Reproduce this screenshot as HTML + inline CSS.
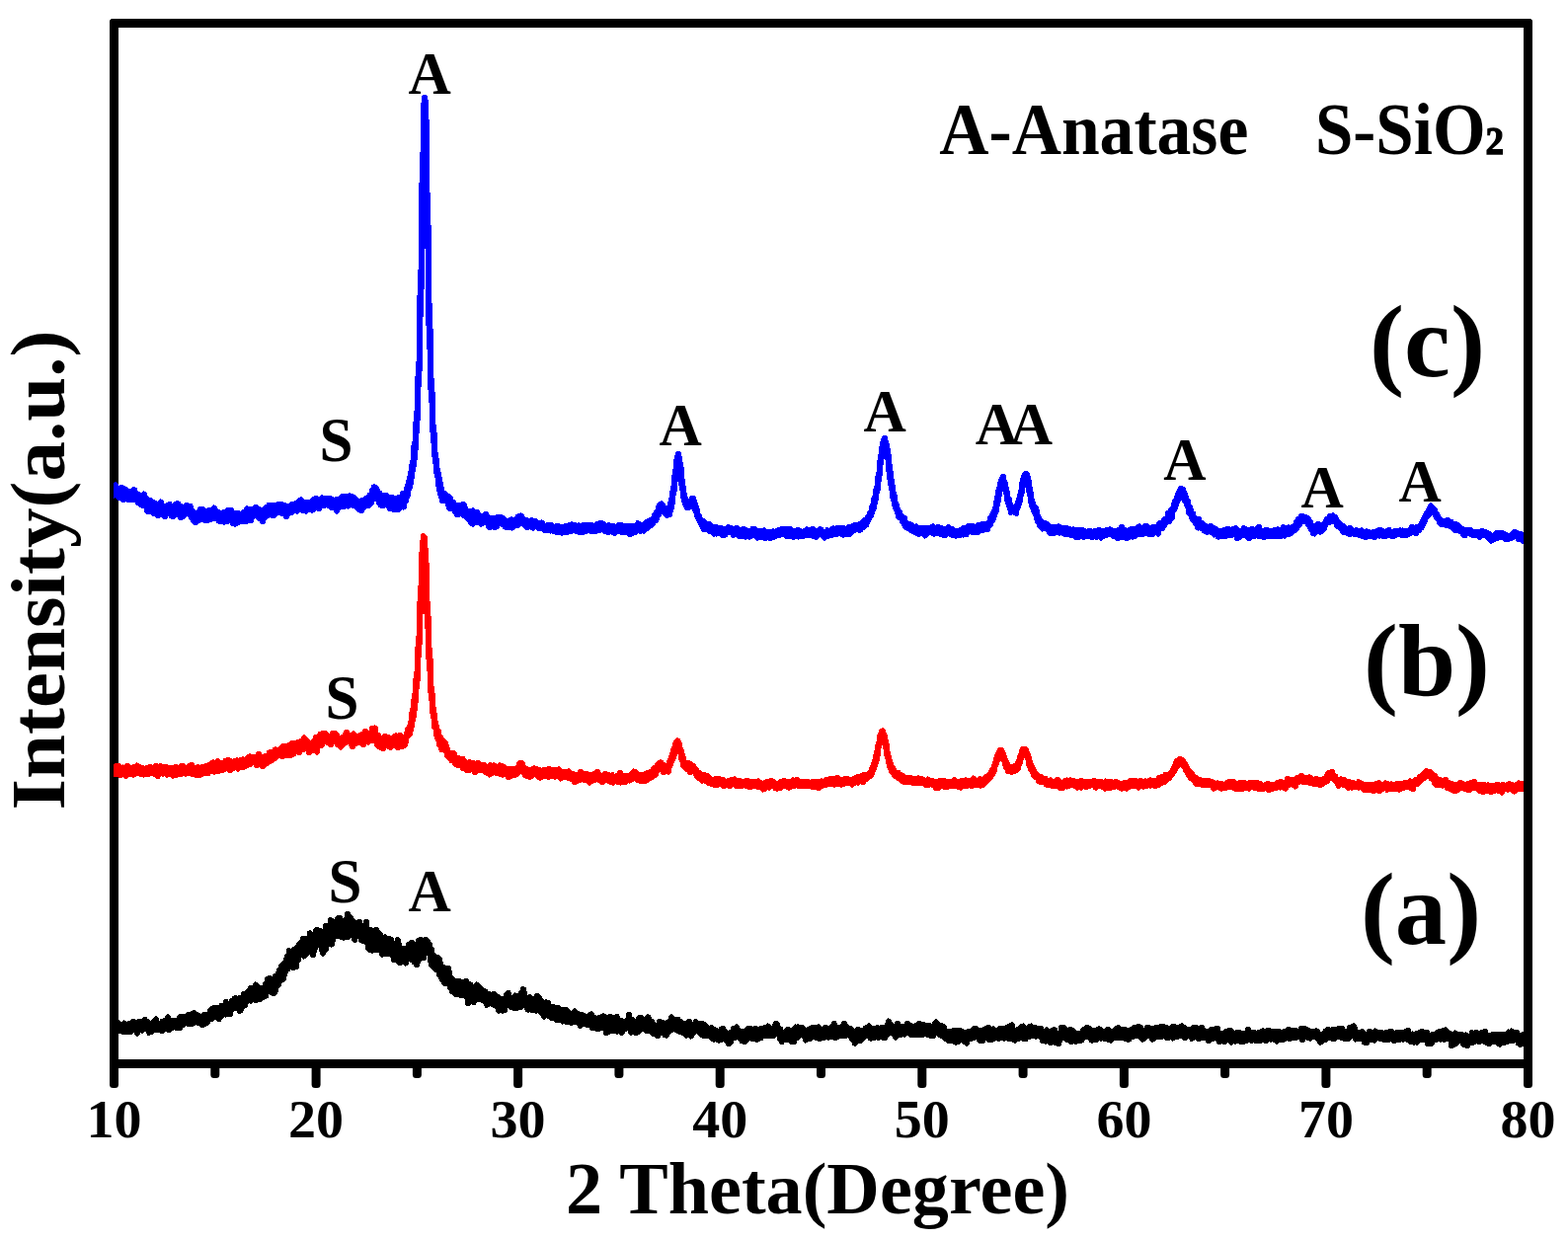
<!DOCTYPE html>
<html lang="en"><head><meta charset="utf-8"><title>XRD patterns</title>
<style>html,body{margin:0;padding:0;background:#fff;overflow:hidden}svg{display:block}</style></head>
<body>
<svg width="1588" height="1256" viewBox="0 0 1588 1256" role="img" aria-label="XRD patterns">
<rect width="1588" height="1256" fill="#fff"/>
<g fill="#000">
<rect x="111" y="19" width="9" height="1083" rx="3.5"/>
<rect x="1543" y="19" width="9" height="1083" rx="3.5"/>
<rect x="111" y="19" width="1441" height="9" rx="3.5"/>
<rect x="111" y="1073" width="1441" height="9"/>
<rect x="213.3" y="1073" width="9" height="19" rx="3.5"/>
<rect x="315.6" y="1073" width="9" height="29" rx="3.5"/>
<rect x="417.9" y="1073" width="9" height="19" rx="3.5"/>
<rect x="520.1" y="1073" width="9" height="29" rx="3.5"/>
<rect x="622.4" y="1073" width="9" height="19" rx="3.5"/>
<rect x="724.7" y="1073" width="9" height="29" rx="3.5"/>
<rect x="827.0" y="1073" width="9" height="19" rx="3.5"/>
<rect x="929.3" y="1073" width="9" height="29" rx="3.5"/>
<rect x="1031.6" y="1073" width="9" height="19" rx="3.5"/>
<rect x="1133.9" y="1073" width="9" height="29" rx="3.5"/>
<rect x="1236.1" y="1073" width="9" height="19" rx="3.5"/>
<rect x="1338.4" y="1073" width="9" height="29" rx="3.5"/>
<rect x="1440.7" y="1073" width="9" height="19" rx="3.5"/>
</g>
<clipPath id="c"><rect x="115" y="28" width="1428" height="1045"/></clipPath>
<g fill="none" stroke-width="6" stroke-linejoin="round" stroke-linecap="butt" shape-rendering="crispEdges" clip-path="url(#c)">
<path stroke="#0000ff" d="M113 504.7L113 493.5L114 493L114 502.6L115 501.9L115 494.4L116 493L116 501L117 500.2L117 491.3L118 496L118 501.6L119 502.2L119 495.1L120 496L120 503.6L121 501.5L121 497.1L122 494.3L122 504L123 504L123 493.5L124 497.3L124 503.4L125 506L125 498L126 495.2L126 505.5L127 505.5L127 495.9L128 496.6L128 505.4L129 505.2L129 499L130 500.1L130 506.2L131 504.7L131 498L132 499.6L132 504.9L133 504.9L133 498.2L134 498.5L134 506.4L135 504.4L135 499.9L136 496L136 504.5L137 505.3L137 501.2L138 499.8L138 506.1L139 507.5L139 500.1L140 500.9L140 509.3L141 508.6L141 503.9L142 503.3L142 510.3L143 510.5L143 504.5L144 504.6L144 511.7L145 511.6L145 504.5L146 500.5L146 512.2L147 511.6L147 504.8L148 504.7L148 512.5L149 517.7L149 508.8L150 509.2L150 514.5L151 513.7L151 507.7L152 507.2L152 518.2L153 515.3L153 508.1L154 510.3L154 514.4L155 518.2L155 512.1L156 509.2L156 520.1L157 518.8L157 513.9L158 513.1L158 518.8L159 520.5L159 516.4L160 511L160 521.9L161 520.7L161 513.9L162 509.5L162 521.6L163 520.4L163 508.4L164 512.5L164 518.2L165 519.1L165 512.8L166 513.2L166 517.3L167 523.3L167 512.9L168 513.8L168 520.7L169 519.5L169 513.4L170 512.1L170 519.7L171 518.8L171 511.5L172 511.1L172 517.8L173 519.1L173 513.8L174 515.2L174 522.7L175 520.1L175 513.2L176 514.4L176 522.8L177 519L177 513L178 510.8L178 518.1L179 518L179 510.3L180 510.3L180 520.6L181 518.9L181 512.2L182 513.9L182 520.1L183 524.1L183 512.8L184 513.7L184 521.5L185 523L185 515.4L186 517.8L186 522.8L187 521.2L187 516.2L188 514.9L188 519.3L189 519.8L189 511.7L190 513L190 519.7L191 520.7L191 513.3L192 512.6L192 520.8L193 522.5L193 512.9L194 518.1L194 524.6L195 521.7L195 518.2L196 519.3L196 527.5L197 526.9L197 519.5L198 519.5L198 529.1L199 528.5L199 520.7L200 520L200 527.1L201 527.3L201 519.6L202 517.6L202 525.8L203 521.6L203 516L204 518.4L204 526.2L205 525L205 515.9L206 517.5L206 525.1L207 524.9L207 517.6L208 519.7L208 527.3L209 523.8L209 518.1L210 519.2L210 525L211 526.5L211 519.5L212 517.1L212 525.1L213 523.2L213 516.9L214 518.6L214 525.9L215 523.7L215 517.6L216 517L216 525.3L217 523L217 514.4L218 517.5L218 524.7L219 525.4L219 517.6L220 518.4L220 525.6L221 526.2L221 519.1L222 519.6L222 527.8L223 527.6L223 520.8L224 521.7L224 526.2L225 527L225 521.5L226 521.1L226 527.9L227 528.7L227 518.5L228 519.9L228 525.6L229 527.3L229 518.8L230 518.7L230 528.4L231 524.6L231 517.2L232 518.1L232 524.8L233 526.2L233 517.3L234 516.7L234 526.2L235 526.1L235 519.2L236 521.7L236 530.1L237 526.2L237 519.8L238 521.7L238 530.8L239 527.4L239 520.2L240 520.6L240 527.3L241 529.5L241 522.3L242 520.1L242 528.8L243 528.4L243 522.2L244 520.9L244 526.5L245 528.2L245 520.7L246 519.3L246 526.1L247 527L247 521.3L248 520.5L248 527.9L249 528L249 520.3L250 515.4L250 527L251 525L251 516.8L252 515.8L252 523.3L253 525.7L253 518.7L254 516.8L254 527.2L255 523.3L255 517.7L256 515.9L256 521.7L257 521.3L257 516.2L258 514.6L258 522.1L259 521L259 513.6L260 515L260 521.7L261 523.7L261 515.1L262 516.1L262 522.6L263 525L263 518.4L264 517.3L264 525L265 524.5L265 517.2L266 518.1L266 528.2L267 524.1L267 516.4L268 516.5L268 524.4L269 521.3L269 514.3L270 514L270 519.5L271 519.9L271 513.9L272 512.2L272 521.8L273 520.4L273 511.8L274 514.2L274 520.7L275 521.8L275 514.5L276 513.6L276 519.3L277 521.7L277 511.9L278 513.7L278 521.8L279 519.3L279 515.2L280 513.8L280 519.5L281 518.7L281 515.6L282 511L282 518.8L283 519.3L283 512.6L284 511L284 518.6L285 519.8L285 510.7L286 513.3L286 519.4L287 518.4L287 513.8L288 512L288 517.8L289 521.2L289 513.9L290 515.5L290 523.5L291 520.4L291 515.5L292 512.9L292 518.1L293 519.7L293 514.1L294 512.9L294 518.8L295 519.1L295 511.3L296 510.6L296 517.5L297 517.5L297 510.5L298 510.8L298 517.1L299 516.5L299 510.3L300 510.2L300 516.2L301 517.6L301 510.2L302 508.4L302 516.9L303 515.2L303 508.2L304 510.2L304 516.3L305 515L305 506.3L306 509.1L306 516.6L307 517L307 510.6L308 510.5L308 517.2L309 516.6L309 508.8L310 511L310 517.7L311 515.2L311 508.8L312 509.3L312 515.2L313 515.1L313 509.9L314 508.7L314 515.8L315 514.7L315 510.3L316 508.1L316 516.6L317 516L317 508.9L318 505.7L318 513.9L319 513.5L319 505.7L320 504.7L320 513L321 514.2L321 508.7L322 509L322 512.9L323 515.2L323 506.6L324 505.8L324 512.1L325 511.3L325 505.6L326 504.5L326 511.9L327 510.3L327 507.1L328 506.5L328 511.9L329 510.1L329 504.5L330 505.5L330 511L331 511.3L331 505.4L332 506.3L332 511.7L333 511.1L333 505L334 504.9L334 510.5L335 511.1L335 505.1L336 506L336 514.2L337 514L337 507.3L338 508.9L338 514.3L339 514.2L339 507.7L340 507.5L340 513.4L341 517.7L341 505.6L342 507.4L342 516L343 512.7L343 506.3L344 507.7L344 512.4L345 513.1L345 505.9L346 503.5L346 511.8L347 509.6L347 503.3L348 503.9L348 513.5L349 511.3L349 502.6L350 502.5L350 509.8L351 510.4L351 503.9L352 503.3L352 509.1L353 512.5L353 502.8L354 502.4L354 511.3L355 509L355 503.1L356 505.2L356 511.4L357 511.2L357 503.4L358 503.9L358 512.2L359 510.2L359 505.6L360 505.8L360 511.2L361 513.8L361 506.9L362 508.3L362 514.7L363 514.9L363 509.1L364 508.2L364 516.5L365 515.6L365 509.2L366 510.5L366 517.1L367 514.6L367 506.6L368 510.5L368 514.4L369 512.9L369 508.3L370 505.3L370 512.3L371 511.8L371 504.5L372 504.3L372 512.1L373 509.9L373 504.2L374 502.2L374 511.9L375 508.6L375 502.1L376 502.3L376 509.2L377 506.4L377 496.7L378 495.9L378 503L379 500.5L379 493.3L380 495.6L380 498.9L381 505L381 494.1L382 497L382 504.5L383 505.9L383 499.3L384 502.4L384 509.5L385 510.2L385 500L386 504L386 511.7L387 510.6L387 503.9L388 505.5L388 512.4L389 508.9L389 504.8L390 501.9L390 509.8L391 511.1L391 505.6L392 502.4L392 509.8L393 512L393 504.2L394 504.2L394 509.8L395 515L395 506.7L396 508.7L396 515.2L397 510.7L397 503.7L398 505.7L398 513.9L399 516.3L399 504.9L400 505.5L400 512L401 512.3L401 505.9L402 508.1L402 513.2L403 516.3L403 506.5L404 504L404 512.5L405 513.7L405 506.3L406 503.4L406 513.7L407 509.1L407 505.1L408 499.9L408 510.6L409 513.5L409 500.5L410 502L410 508.1L411 507.3L411 501.2L412 494.8L412 503.6L413 500.7L413 492.8L414 487.6L414 495.8L415 492.7L415 486L416 478.6L416 489.5L417 481.3L417 473.1L418 467.3L418 476.7L419 469.2L419 455.3L420 448.1L420 464.7L421 447.7L421 436L422 418L422 436.8L423 416.7L423 393.8L424 368.1L424 390.7L425 363.4L425 324.2L426 275.2L426 319.3L427 267.8L427 215.2L428 155.8L428 207.2L429 150.5L429 109.7L430 98.9L430 107.3L431 132.9L431 102.7L432 138.6L432 188.6L433 249.8L433 196.3L434 257.3L434 307.7L435 352L435 309.2L436 353.8L436 384L437 406.6L437 384.6L438 409L438 428.2L439 447.6L439 432L440 443.4L440 456.7L441 467.8L441 459.4L442 467.8L442 477.4L443 482.6L443 475L444 481.4L444 489.4L445 496.9L445 484.3L446 491.5L446 499.9L447 503.9L447 494.1L448 499.8L448 507L449 507.3L449 501.4L450 500L450 506.2L451 506.9L451 500.9L452 501.8L452 506.5L453 507.8L453 504.7L454 502.9L454 510.6L455 514L455 505.8L456 504.5L456 515.1L457 514.1L457 508.1L458 511.1L458 514.6L459 515.4L459 508.9L460 510.3L460 516.1L461 518.4L461 512.7L462 511.8L462 519.7L463 521.1L463 513L464 512.8L464 519.1L465 520.5L465 512.4L466 512.9L466 518.7L467 520.1L467 515.8L468 513.5L468 519.1L469 521.7L469 511L470 511.2L470 521.3L471 522.6L471 514.3L472 516.6L472 520.9L473 523.8L473 517.1L474 518.1L474 525.7L475 526.1L475 519.7L476 519.8L476 527.8L477 528.9L477 519.5L478 521.3L478 530L479 530.6L479 517.3L480 520.4L480 528.5L481 528.8L481 523.2L482 524.9L482 529.2L483 527.7L483 518.6L484 520.8L484 529.3L485 528.7L485 521.6L486 523L486 528.5L487 530.6L487 522.9L488 523.5L488 528.2L489 529.9L489 523.9L490 524.2L490 527.6L491 526.9L491 521.5L492 521L492 527.5L493 528.7L493 523.3L494 524L494 529.6L495 533.7L495 525.6L496 527.3L496 533.9L497 533.6L497 525.6L498 524.9L498 532.6L499 532L499 526.1L500 526L500 530.3L501 534.4L501 528.3L502 525.8L502 531.8L503 533.3L503 524.3L504 524.7L504 529.2L505 529.2L505 524.9L506 523.8L506 528.2L507 529.4L507 523.9L508 525.7L508 530.5L509 531L509 524.6L510 526.5L510 531.4L511 531.7L511 528.1L512 527.3L512 533.7L513 532.3L513 528.3L514 527.7L514 533.9L515 534L515 527.5L516 527.3L516 533.6L517 532.7L517 527.6L518 526.2L518 531.9L519 534.5L519 526.8L520 529.7L520 533.1L521 531.9L521 527.7L522 527.9L522 531.4L523 530.2L523 525.9L524 525.4L524 532.1L525 528.9L525 523.3L526 524L526 528.7L527 527.6L527 524.7L528 522.5L528 530.3L529 529.6L529 524.6L530 525.6L530 529.6L531 531.3L531 526.6L532 528.6L532 531.6L533 533.7L533 527L534 527.7L534 533.4L535 533.8L535 529.3L536 528.9L536 531.9L537 532.7L537 528L538 528.1L538 533.4L539 531.7L539 527.1L540 528.1L540 534.8L541 532.1L541 528.9L542 527.6L542 532.9L543 532.4L543 529L544 529.8L544 533.7L545 534.6L545 531.4L546 529.9L546 534.1L547 534.5L547 531.1L548 530.2L548 534.9L549 534.5L549 529.4L550 531.4L550 536L551 536.2L551 532.6L552 533.7L552 537.3L553 536.7L553 533L554 532.2L554 537L555 537.3L555 532.3L556 532.1L556 535.4L557 537.3L557 532.9L558 533.4L558 537.6L559 536.7L559 532.2L560 534.1L560 537.3L561 538.4L561 533.9L562 535.7L562 538.5L563 538.8L563 535.5L564 532.6L564 538.4L565 537.3L565 532.5L566 535.4L566 539.2L567 537.6L567 534.5L568 534.2L568 537.6L569 539.6L569 533.8L570 533.8L570 538L571 537L571 534.8L572 534.2L572 538.6L573 539L573 533L574 534.4L574 539.1L575 538.1L575 532.5L576 535.2L576 537.2L577 537.7L577 531.9L578 532.7L578 538.1L579 536.6L579 531.4L580 531.5L580 536.3L581 537.2L581 531.9L582 533.3L582 537.3L583 537.8L583 532.2L584 533.1L584 537.6L585 537.6L585 533.3L586 532.2L586 538.4L587 539.3L587 534.1L588 533L588 537.4L589 538.7L589 533.8L590 532.5L590 537.9L591 538.6L591 533.4L592 531.7L592 536.9L593 538.1L593 532.5L594 533.4L594 535.6L595 536.3L595 533.4L596 531.8L596 535.8L597 537.4L597 533.1L598 531.6L598 536.7L599 538.4L599 531.9L600 533.5L600 537.5L601 537.1L601 533.6L602 534.9L602 538.4L603 538.5L603 532.4L604 531.4L604 537.7L605 536.2L605 533.1L606 532.6L606 536.7L607 537L607 530.3L608 530.4L608 534.3L609 535.5L609 531.3L610 530.3L610 534.5L611 535.3L611 532.3L612 531.5L612 536.5L613 538.1L613 533.4L614 534L614 536.6L615 537.8L615 533.4L616 533.8L616 539L617 536.8L617 532.2L618 532.5L618 537.6L619 537.9L619 534.1L620 533.1L620 538.7L621 536.8L621 533L622 534.3L622 538.6L623 539.9L623 534.1L624 533.6L624 538.7L625 538.4L625 533.9L626 534.3L626 537.7L627 537.2L627 532.2L628 532.9L628 534.5L629 537.4L629 531.8L630 533.1L630 538.9L631 536.8L631 532.9L632 534.5L632 538.6L633 538.6L633 534.7L634 532.9L634 539L635 537.3L635 534L636 532.9L636 537.2L637 538.4L637 533.6L638 534.2L638 541L639 538.6L639 532.9L640 534.1L640 539.6L641 539.6L641 535.2L642 535.4L642 538.5L643 539.4L643 533.2L644 533.7L644 537.9L645 536.6L645 533L646 530.1L646 536.4L647 536.6L647 532.1L648 533.1L648 535.9L649 537.8L649 532.3L650 532.9L650 536.5L651 535.5L651 531.9L652 532.5L652 537.7L653 535L653 531.6L654 529.3L654 535.4L655 535.1L655 528.8L656 528.2L656 532.3L657 532.9L657 529.2L658 529.4L658 532L659 532.4L659 527.2L660 527.9L660 530.6L661 530.7L661 525.7L662 524.8L662 527.3L663 527.7L663 521.8L664 521.1L664 527.4L665 524.9L665 519L666 517.2L666 521.2L667 521.3L667 513.8L668 511.9L668 515.7L669 514.2L669 510.7L670 510.3L670 516L671 515.1L671 511.2L672 513.5L672 518.3L673 519.2L673 515.7L674 515.1L674 520.6L675 521.6L675 516.5L676 516.5L676 521.8L677 521L677 517.8L678 515.1L678 521.5L679 516.8L679 511.7L680 505.1L680 514.8L681 508.1L681 501.4L682 494L682 501L683 495.5L683 486.4L684 476.4L684 485.9L685 476.3L685 467.4L686 462.7L686 468.1L687 465.8L687 459.5L688 464.4L688 470.1L689 478.7L689 469.3L690 477.4L690 487.5L691 495.9L691 486.9L692 496.5L692 502L693 507.2L693 500L694 506.3L694 510.5L695 512.9L695 509.5L696 509.7L696 514.4L697 514.5L697 510.4L698 509.3L698 512.4L699 513.4L699 507.6L700 506.2L700 509.8L701 509.6L701 504.8L702 504.6L702 509.7L703 512.3L703 507.3L704 510.9L704 515.5L705 518.7L705 512.9L706 517.6L706 522.2L707 524.5L707 521.9L708 522.7L708 526.8L709 528.4L709 525.4L710 527L710 530L711 532.4L711 529.2L712 528L712 534.8L713 536.2L713 529.2L714 530.9L714 534.2L715 534.9L715 530.3L716 532.4L716 536.3L717 535.4L717 531.2L718 532.4L718 537.5L719 538.3L719 531.4L720 532.2L720 536.7L721 537.4L721 533.2L722 534.1L722 539.6L723 540.8L723 533.6L724 535.1L724 540.2L725 540L725 536.9L726 534.2L726 540.6L727 539L727 535.3L728 534.8L728 537.7L729 539.9L729 535.6L730 535.2L730 539.8L731 541.6L731 537.5L732 536.2L732 542.4L733 541.6L733 537.1L734 536.3L734 541.9L735 540.6L735 536L736 535.6L736 539.7L737 537.4L737 534.4L738 534.3L738 538.5L739 539.2L739 535L740 535.1L740 538.7L741 539.6L741 536.9L742 537.4L742 540.7L743 541.9L743 537.3L744 535.6L744 541.6L745 539L745 535.6L746 534.7L746 539.2L747 540.5L747 535.9L748 537.6L748 541.3L749 542.9L749 538.4L750 539L750 543.3L751 543.5L751 538.5L752 536.3L752 540.3L753 540.6L753 537.1L754 536.2L754 539.2L755 543.8L755 537.6L756 537.4L756 540.8L757 542.3L757 539.1L758 539L758 541.2L759 543.6L759 537.8L760 537.6L760 542.5L761 542.6L761 538.6L762 536.1L762 540.5L763 541.3L763 537.2L764 536L764 542.2L765 541.6L765 538.3L766 537.1L766 543L767 544.5L767 538.7L768 538.3L768 543.7L769 540.5L769 538.1L770 538.5L770 543.8L771 543.6L771 537.5L772 539.8L772 543.1L773 543.4L773 539.3L774 537.4L774 543.3L775 545L775 539.3L776 539.7L776 542.5L777 542.3L777 539.9L778 539L778 542.1L779 543.3L779 538.6L780 540.3L780 545L781 543.7L781 540.8L782 540.9L782 543.3L783 544.3L783 538.3L784 539.7L784 542.9L785 543L785 539L786 539.3L786 542.5L787 542L787 538.2L788 538.6L788 541.5L789 542.4L789 537L790 538.3L790 541.7L791 541L791 536.9L792 535.8L792 539.9L793 541.4L793 537.1L794 536.2L794 540.6L795 541.2L795 537.6L796 536L796 541.3L797 543.3L797 538.2L798 538.4L798 541.9L799 542.9L799 539.2L800 535.8L800 543.1L801 543.1L801 539.6L802 538.6L802 543.2L803 543.9L803 539.3L804 538.4L804 543L805 542.9L805 537.7L806 538.8L806 543.4L807 541.5L807 538.1L808 536.6L808 541L809 543.5L809 538.6L810 537.7L810 541.7L811 541.9L811 538.2L812 538.8L812 543L813 541.6L813 539.2L814 538.2L814 542.8L815 540.8L815 538.4L816 539.7L816 542.1L817 541L817 536.4L818 536.9L818 541.7L819 542.4L819 538.7L820 537.5L820 542.3L821 541.5L821 537.6L822 538.8L822 542.1L823 542.1L823 535.8L824 537.4L824 543L825 541.8L825 537.6L826 537.5L826 542.1L827 543.8L827 539.4L828 538.1L828 541.7L829 541L829 537.9L830 536.7L830 541.2L831 541.1L831 536.2L832 537.3L832 541.1L833 542.6L833 538.2L834 538.7L834 543.8L835 544.7L835 538.8L836 539.4L836 541.5L837 543.2L837 539L838 537.2L838 542.6L839 542.7L839 538.2L840 539.2L840 541.8L841 542.1L841 537.8L842 536.9L842 542.4L843 540.9L843 535.9L844 535.4L844 541L845 541.3L845 536.3L846 537.7L846 540L847 540.2L847 537.8L848 535.1L848 540.7L849 540.5L849 537.9L850 535.2L850 539.6L851 538.4L851 535L852 535.2L852 539.8L853 540.6L853 535.6L854 536.8L854 541.7L855 540.4L855 535.1L856 535.7L856 541.1L857 540.1L857 535.7L858 535.5L858 540.3L859 540.2L859 534.6L860 533.8L860 541.5L861 537.9L861 533.7L862 534.2L862 539.5L863 538.5L863 533.6L864 532.7L864 536.1L865 536.1L865 532.4L866 532.7L866 536.6L867 535.8L867 532.3L868 532.1L868 535.9L869 535.5L869 532.1L870 532.1L870 535L871 536.9L871 530.9L872 531.2L872 534.3L873 533.9L873 529.9L874 528.6L874 534.1L875 531.3L875 529.4L876 527L876 532.2L877 531.9L877 526.9L878 525.6L878 529.2L879 527L879 523.3L880 522.6L880 525.3L881 523.2L881 519.3L882 518.5L882 522.1L883 518.3L883 514.3L884 511.3L884 516.3L885 514.7L885 506.1L886 503.8L886 509.9L887 504.3L887 497.5L888 493.1L888 498.6L889 494.4L889 485.5L890 479.4L890 485.9L891 478L891 470.8L892 462.1L892 469L893 461.2L893 456.4L894 448.6L894 458.4L895 450.2L895 445.6L896 443.9L896 448.7L897 451.5L897 447.4L898 451L898 457.6L899 464.1L899 456.2L900 463.4L900 471.5L901 483.7L901 471.8L902 482.7L902 488.5L903 495.7L903 486.4L904 495.3L904 502.3L905 506.6L905 499.8L906 503.3L906 510.1L907 514.8L907 509.8L908 511.8L908 515.9L909 519.9L909 515.6L910 518.5L910 523.6L911 523.6L911 518.5L912 522L912 523.8L913 525.6L913 522.2L914 524.5L914 528.4L915 529.6L915 525.5L916 524.9L916 531.3L917 532.9L917 528.7L918 530.1L918 534.3L919 534.7L919 532.1L920 532.2L920 535.4L921 535.9L921 532.6L922 531.3L922 535.6L923 536L923 531.9L924 534L924 538L925 538.3L925 535L926 534.7L926 538.5L927 538.3L927 533.6L928 533.3L928 539.8L929 538.5L929 535.1L930 534.9L930 538.8L931 540.9L931 535.8L932 535.2L932 538.8L933 539L933 535.6L934 536.2L934 540.5L935 539.8L935 534.9L936 536L936 540L937 542.5L937 534.6L938 536.7L938 540.4L939 539.2L939 534.5L940 534.7L940 539.8L941 538.6L941 535.7L942 534.9L942 538.6L943 539.1L943 535L944 535.1L944 539.6L945 538.1L945 533.3L946 535.8L946 540.6L947 540.3L947 536L948 536.5L948 539.2L949 539L949 535.6L950 533.7L950 540.4L951 538.3L951 535L952 536.5L952 540.6L953 541.1L953 534.9L954 536.2L954 540.5L955 541L955 536.3L956 535.7L956 542.4L957 539.5L957 536.1L958 535.6L958 541.8L959 539L959 536.2L960 537.1L960 539.8L961 539.4L961 534.2L962 535.7L962 539.1L963 539.4L963 536.3L964 535.6L964 541.7L965 540.8L965 537.7L966 537.3L966 541.5L967 541.9L967 537.6L968 537.7L968 542.7L969 542.5L969 538.8L970 537.7L970 542L971 541L971 538.2L972 537.2L972 542.3L973 541.3L973 536.8L974 537.7L974 541.5L975 539.5L975 537.2L976 535L976 541.6L977 538.5L977 535.4L978 536.8L978 540.7L979 540.9L979 535.5L980 533.7L980 538.1L981 538.2L981 533.2L982 533.6L982 536.3L983 535.5L983 532.8L984 534.2L984 538.7L985 538L985 534.6L986 533.5L986 539.2L987 538.2L987 534.8L988 535.1L988 537.8L989 538.1L989 534.6L990 533.5L990 539.4L991 537L991 531.9L992 532.3L992 536.8L993 536.2L993 532.4L994 531.3L994 536.4L995 537L995 532.8L996 531.1L996 534.3L997 535.4L997 532.9L998 530.7L998 535.9L999 534.7L999 530.9L1000 530.8L1000 536.1L1001 533.4L1001 531.2L1002 529L1002 531.7L1003 531.2L1003 525.1L1004 524.5L1004 527.8L1005 527L1005 521.9L1006 519.9L1006 525.1L1007 521.6L1007 517.6L1008 514.4L1008 520L1009 516.5L1009 511.1L1010 503.3L1010 512.1L1011 506.3L1011 499.4L1012 494.3L1012 501.6L1013 495.1L1013 490L1014 486.3L1014 491.5L1015 489.1L1015 484.2L1016 482.7L1016 488.1L1017 493L1017 487L1018 489.9L1018 494.7L1019 499.5L1019 494.9L1020 499.3L1020 505.9L1021 509L1021 505.9L1022 505.8L1022 511.6L1023 515.6L1023 510L1024 512.6L1024 518.9L1025 518.3L1025 514.5L1026 513.6L1026 517.8L1027 518L1027 514.6L1028 514.7L1028 519.2L1029 519.9L1029 514.8L1030 511.7L1030 515.8L1031 513L1031 509.6L1032 505.8L1032 510.4L1033 507.1L1033 502.1L1034 498L1034 502L1035 496.9L1035 491.3L1036 485.7L1036 493L1037 489.2L1037 482.4L1038 480.6L1038 484.9L1039 484.1L1039 479.6L1040 480.3L1040 486L1041 491.4L1041 483.4L1042 488.9L1042 495L1043 501.7L1043 494.3L1044 501.6L1044 507.7L1045 512.2L1045 506.5L1046 510.7L1046 513.6L1047 517.5L1047 512.2L1048 515.3L1048 519.6L1049 521.9L1049 514.9L1050 518.2L1050 524.7L1051 528.4L1051 522.6L1052 524.6L1052 529.3L1053 532.5L1053 526.8L1054 528.5L1054 532.2L1055 534.7L1055 530.3L1056 529.4L1056 535.6L1057 533.5L1057 530.4L1058 530.4L1058 535L1059 535.4L1059 530.1L1060 531.2L1060 534.8L1061 536L1061 532.8L1062 532.3L1062 537.1L1063 539.8L1063 534L1064 533.7L1064 538.9L1065 538.7L1065 533.6L1066 535.8L1066 540.2L1067 540.2L1067 535.1L1068 535.8L1068 539.2L1069 538.9L1069 533.9L1070 535.4L1070 538.6L1071 538.3L1071 534.4L1072 533.2L1072 538.5L1073 539.8L1073 533.5L1074 534.3L1074 538.6L1075 539.4L1075 535.6L1076 535.4L1076 539.2L1077 539.5L1077 536.5L1078 535.9L1078 540.8L1079 539.7L1079 535L1080 535.9L1080 541.1L1081 539.9L1081 535.1L1082 537.7L1082 540.8L1083 541.3L1083 536L1084 538L1084 541.8L1085 540.7L1085 536.8L1086 537.3L1086 541.4L1087 540.5L1087 536.3L1088 536.5L1088 542.8L1089 541.7L1089 537.5L1090 539.2L1090 543.9L1091 541.9L1091 539L1092 537.2L1092 544.2L1093 541.1L1093 536.6L1094 536.9L1094 541.2L1095 541.7L1095 537.7L1096 537.3L1096 542L1097 542L1097 537.1L1098 538L1098 543.9L1099 542L1099 539.7L1100 539.3L1100 543.3L1101 543.2L1101 538.8L1102 539.1L1102 541.9L1103 542.4L1103 537.8L1104 538.5L1104 542.1L1105 543.6L1105 538.1L1106 538.8L1106 542.2L1107 543.9L1107 539.2L1108 539.5L1108 543L1109 543.2L1109 538L1110 538.4L1110 541.6L1111 543.9L1111 539.3L1112 537.3L1112 541.7L1113 541.7L1113 536.8L1114 537.4L1114 541.5L1115 544.8L1115 538L1116 539.5L1116 543.1L1117 541.7L1117 537.7L1118 538.1L1118 542.8L1119 540.4L1119 538.1L1120 538L1120 542.3L1121 540.8L1121 537.2L1122 537.8L1122 541.1L1123 541.4L1123 536.6L1124 536.4L1124 541.3L1125 540.7L1125 537L1126 538.2L1126 540.9L1127 541.3L1127 538.1L1128 538.3L1128 543.2L1129 542.4L1129 538.7L1130 539L1130 543.2L1131 543.9L1131 538.1L1132 538.8L1132 545.4L1133 543.9L1133 537.2L1134 538.4L1134 542.1L1135 542L1135 538.8L1136 533.7L1136 542.5L1137 544.3L1137 536.6L1138 536.5L1138 542.5L1139 541.2L1139 536.9L1140 538.6L1140 544.7L1141 543.9L1141 540.1L1142 539.3L1142 544.8L1143 543.9L1143 538.7L1144 539L1144 542.4L1145 541.9L1145 536.3L1146 538.2L1146 542.7L1147 543.7L1147 535.6L1148 536.6L1148 540L1149 543.2L1149 537.4L1150 536.5L1150 541.4L1151 540.1L1151 536.3L1152 536.9L1152 539.7L1153 539.9L1153 534L1154 533.4L1154 541L1155 539.4L1155 535.3L1156 534.7L1156 539.4L1157 541L1157 535.2L1158 535.2L1158 538.5L1159 538.1L1159 534.2L1160 532.6L1160 539.2L1161 538.1L1161 534.2L1162 533.1L1162 540.1L1163 539.2L1163 534.2L1164 535.9L1164 541.3L1165 540L1165 536.3L1166 536.1L1166 539.8L1167 539L1167 535.8L1168 534.1L1168 540.9L1169 538L1169 534.4L1170 534.7L1170 539L1171 539.2L1171 534.2L1172 533.5L1172 537.1L1173 540.6L1173 532.4L1174 530.3L1174 534.6L1175 533.7L1175 530.3L1176 529.9L1176 534.7L1177 534.8L1177 529.5L1178 528.4L1178 531.7L1179 531.8L1179 526.6L1180 525.9L1180 530.2L1181 529.5L1181 525.7L1182 525.4L1182 528.2L1183 527.5L1183 520.1L1184 523.4L1184 528L1185 526.5L1185 521L1186 517L1186 523.3L1187 524.4L1187 517L1188 514.6L1188 517.8L1189 514.4L1189 511.8L1190 507.5L1190 515.1L1191 510.9L1191 506.6L1192 503.5L1192 508.8L1193 504L1193 500.9L1194 498.2L1194 505.3L1195 501.6L1195 496.6L1196 494.8L1196 499.3L1197 500.1L1197 495.8L1198 495.9L1198 500.7L1199 503.8L1199 498.3L1200 501L1200 507.5L1201 508.2L1201 503.7L1202 507.4L1202 511.1L1203 513.6L1203 507.5L1204 513.9L1204 519.4L1205 516.8L1205 513.8L1206 517L1206 520.1L1207 524.8L1207 520.3L1208 520.3L1208 526.3L1209 527.7L1209 523.3L1210 526L1210 528.3L1211 530.7L1211 525.4L1212 527.4L1212 531.3L1213 534.1L1213 528.8L1214 525.9L1214 534.6L1215 533.5L1215 529.9L1216 530.4L1216 534.7L1217 534.8L1217 529.7L1218 530.2L1218 534.8L1219 536.6L1219 532.8L1220 533.5L1220 537.8L1221 537.9L1221 532.7L1222 534L1222 538.6L1223 538.8L1223 535.1L1224 534.2L1224 536.6L1225 537.3L1225 535.4L1226 533.1L1226 536.6L1227 536.9L1227 533.2L1228 534.8L1228 540L1229 540.4L1229 534.5L1230 535.9L1230 541.6L1231 540.1L1231 536.1L1232 536.3L1232 540.1L1233 542.8L1233 537.3L1234 539.3L1234 543.7L1235 543.1L1235 537.5L1236 537.8L1236 540.9L1237 541.3L1237 537.8L1238 537.6L1238 541.4L1239 543L1239 537.7L1240 537.1L1240 542L1241 543.2L1241 538.3L1242 536.3L1242 542L1243 541.8L1243 537.8L1244 536L1244 541.3L1245 542.3L1245 537.9L1246 536.6L1246 541L1247 542.1L1247 537.3L1248 537.8L1248 539.7L1249 541.2L1249 535.6L1250 536.5L1250 541.2L1251 540.7L1251 536.5L1252 535.1L1252 542.2L1253 545.3L1253 538.2L1254 538.9L1254 544L1255 543.9L1255 539.3L1256 539.2L1256 543.6L1257 542.6L1257 538.3L1258 537.2L1258 541.7L1259 540.9L1259 538.4L1260 535L1260 541.6L1261 541.2L1261 538.5L1262 537.4L1262 541.4L1263 543.6L1263 538L1264 536.9L1264 542.6L1265 545.2L1265 539L1266 537.7L1266 543.2L1267 541.5L1267 537.4L1268 535.6L1268 542.3L1269 542.6L1269 537.3L1270 536.9L1270 541.1L1271 542.5L1271 539L1272 536.3L1272 541.4L1273 540.8L1273 536.8L1274 536.8L1274 540.8L1275 543L1275 533.8L1276 538.7L1276 542.8L1277 542.6L1277 537.8L1278 537.8L1278 543.4L1279 543L1279 538.1L1280 540.2L1280 544.2L1281 543.3L1281 537.3L1282 536.7L1282 541.6L1283 542L1283 537.5L1284 537.3L1284 541.8L1285 543L1285 537.6L1286 538.8L1286 543.1L1287 543.2L1287 538.7L1288 537.9L1288 543.4L1289 542.5L1289 538.3L1290 537.9L1290 540.8L1291 542.5L1291 536.9L1292 537.4L1292 541.2L1293 541.8L1293 537.4L1294 536.2L1294 542.9L1295 541.4L1295 537.8L1296 539.2L1296 542.3L1297 543L1297 537.4L1298 537L1298 542.2L1299 541.1L1299 536.1L1300 534.1L1300 541.4L1301 542.5L1301 537.7L1302 536.2L1302 540.7L1303 540.8L1303 537.3L1304 534.9L1304 539.8L1305 540.7L1305 534.4L1306 535.6L1306 540.6L1307 540.4L1307 535.5L1308 535.6L1308 539.2L1309 538L1309 533.8L1310 534.8L1310 536.8L1311 537L1311 532.6L1312 531.9L1312 536.3L1313 534.9L1313 529L1314 527.9L1314 532.2L1315 532.3L1315 525.8L1316 526.6L1316 531.6L1317 528.1L1317 525.4L1318 522.9L1318 528.5L1319 526.3L1319 524.2L1320 523.5L1320 525.9L1321 526.9L1321 523.9L1322 524.7L1322 528.3L1323 527.3L1323 524.4L1324 525.1L1324 529.5L1325 531.5L1325 525.9L1326 528.6L1326 531L1327 534.5L1327 528.6L1328 532.1L1328 536.2L1329 537.1L1329 533.5L1330 534.4L1330 540.1L1331 540.5L1331 534.3L1332 534L1332 536L1333 537.4L1333 533.2L1334 533.6L1334 537.4L1335 537.1L1335 530.6L1336 532.9L1336 537.9L1337 538.7L1337 534.3L1338 534.7L1338 538L1339 536.8L1339 532.2L1340 532.3L1340 536.8L1341 535.4L1341 530.8L1342 529.9L1342 532.2L1343 530.7L1343 527.2L1344 526L1344 529.1L1345 529.1L1345 526.3L1346 525.4L1346 529.3L1347 527.3L1347 523L1348 523.4L1348 527.6L1349 528L1349 522.8L1350 522.3L1350 525.4L1351 526L1351 523.3L1352 523.5L1352 527.4L1353 528.3L1353 525.8L1354 527.3L1354 532.4L1355 531.8L1355 528.2L1356 530.4L1356 534L1357 534.2L1357 530.7L1358 532.4L1358 535.2L1359 536.7L1359 532.7L1360 532.5L1360 538.4L1361 539.4L1361 536.2L1362 535.8L1362 539.1L1363 539.5L1363 535.3L1364 536.8L1364 539.8L1365 539.3L1365 536.7L1366 536.2L1366 540.8L1367 540.7L1367 534.8L1368 537.2L1368 540.5L1369 540.5L1369 536.7L1370 538L1370 540.4L1371 540.7L1371 537.7L1372 538L1372 540.9L1373 540L1373 537.3L1374 537.4L1374 541L1375 539.5L1375 537.4L1376 538.9L1376 540.2L1377 541.9L1377 538.1L1378 538.3L1378 542.2L1379 541.7L1379 537.3L1380 538.6L1380 543.4L1381 542.6L1381 539.5L1382 540.6L1382 543L1383 544.2L1383 539.1L1384 538.3L1384 542.5L1385 542.8L1385 539.3L1386 540.5L1386 542.9L1387 542L1387 539.3L1388 539.5L1388 542.6L1389 543.1L1389 539.9L1390 539.2L1390 542.9L1391 543L1391 539.8L1392 538.7L1392 544.1L1393 541.8L1393 539L1394 538.1L1394 541.7L1395 541.1L1395 537.9L1396 537.2L1396 540L1397 542.7L1397 538.2L1398 536.6L1398 541.2L1399 541.9L1399 538.2L1400 538.2L1400 542.7L1401 542.2L1401 539.4L1402 539.4L1402 542.6L1403 542.3L1403 538.9L1404 538.4L1404 542.8L1405 541.4L1405 538.6L1406 537.2L1406 541.6L1407 541.9L1407 537.1L1408 539.4L1408 541.2L1409 542.6L1409 538.6L1410 539L1410 542.7L1411 542L1411 539.4L1412 538.5L1412 542.8L1413 542.5L1413 538.2L1414 538L1414 540.2L1415 540.3L1415 538.4L1416 537.6L1416 540.6L1417 540.6L1417 538.3L1418 537.4L1418 540.5L1419 541L1419 538.7L1420 538.8L1420 542.3L1421 541.9L1421 537.4L1422 539L1422 541.7L1423 541.8L1423 538.9L1424 537.9L1424 541.9L1425 541.8L1425 538.9L1426 538L1426 541.4L1427 540.9L1427 538L1428 536.8L1428 540.3L1429 540L1429 535.7L1430 533.6L1430 539.4L1431 538.6L1431 535.1L1432 535.5L1432 537.9L1433 538.3L1433 535.7L1434 534.3L1434 540.3L1435 538.4L1435 536.2L1436 535.2L1436 537.3L1437 537.2L1437 533.9L1438 532.3L1438 535.2L1439 534.8L1439 531.3L1440 529.6L1440 533.2L1441 531L1441 528L1442 526L1442 529L1443 527.3L1443 523.9L1444 521.3L1444 524.7L1445 523.5L1445 519.4L1446 518.9L1446 522.5L1447 520.9L1447 517.5L1448 514.3L1448 519.1L1449 516.9L1449 512.4L1450 513.7L1450 518.2L1451 516.4L1451 514.2L1452 515.5L1452 519.5L1453 520.1L1453 516.7L1454 519.6L1454 522.8L1455 524L1455 520.8L1456 522.6L1456 525.7L1457 526.6L1457 524.1L1458 525.9L1458 529.1L1459 529.9L1459 526.6L1460 527.9L1460 531.3L1461 530.8L1461 528.2L1462 528.5L1462 531.4L1463 531.4L1463 527.5L1464 528.2L1464 530.6L1465 532.4L1465 527.3L1466 527.2L1466 531L1467 530.8L1467 527.6L1468 528.5L1468 531.7L1469 532.9L1469 529.3L1470 529L1470 532.8L1471 533.5L1471 530.9L1472 532.1L1472 535.8L1473 536.5L1473 533L1474 532.9L1474 536.9L1475 537.4L1475 531.1L1476 531.7L1476 536.6L1477 536.2L1477 532.8L1478 534.9L1478 537L1479 538.1L1479 534.6L1480 536.1L1480 538.7L1481 539.5L1481 535.9L1482 536.2L1482 541L1483 542.2L1483 537.1L1484 537.9L1484 541.9L1485 540.1L1485 536.7L1486 537.7L1486 540L1487 539.9L1487 537L1488 538.3L1488 539.6L1489 539.7L1489 537L1490 537.5L1490 541.4L1491 540.8L1491 538.5L1492 539.3L1492 542.3L1493 541.4L1493 538.7L1494 538.6L1494 540.9L1495 541.9L1495 539.2L1496 538.7L1496 541.9L1497 541.8L1497 538.9L1498 541L1498 542.4L1499 543.9L1499 539.3L1500 538.7L1500 542.7L1501 541.6L1501 538.1L1502 538.6L1502 541.1L1503 541.5L1503 539.6L1504 538.9L1504 542.2L1505 542L1505 539.2L1506 539.9L1506 542.7L1507 544.6L1507 540.3L1508 541.1L1508 545.1L1509 545.5L1509 541.7L1510 542.5L1510 547.6L1511 547.1L1511 543.2L1512 543L1512 545.9L1513 546.3L1513 542.5L1514 542.3L1514 545.8L1515 545.2L1515 540.6L1516 540.1L1516 543.5L1517 544.9L1517 540.6L1518 539.7L1518 543.1L1519 543.7L1519 539.7L1520 540.5L1520 543.4L1521 544.1L1521 540.4L1522 540.4L1522 544L1523 544.9L1523 540.9L1524 541.9L1524 544.4L1525 546.4L1525 542.1L1526 542.4L1526 545.3L1527 545.9L1527 543.7L1528 542.9L1528 545.7L1529 545.2L1529 542.6L1530 542.2L1530 545.4L1531 544.5L1531 541.7L1532 541L1532 543.3L1533 543.7L1533 540L1534 538.7L1534 542.4L1535 542.4L1535 540.4L1536 540L1536 543.1L1537 543.1L1537 541.2L1538 540.6L1538 546.1L1539 544.2L1539 542L1540 541L1540 545.7L1541 545.3L1541 542.6L1542 543.7L1542 546.4L1543 548.1L1543 542.8L1544 543.8L1544 548.7L1545 545.7L1545 544.7"/>
<path stroke="#ff0000" d="M113 784.3L113 778.4L114 778.2L114 782.9L115 782.2L115 779.1L116 779.1L116 784.1L117 782.6L117 778.1L118 775.9L118 782.1L119 784.4L119 776.6L120 776.2L120 783L121 781.4L121 777.9L122 777.5L122 785.1L123 783.9L123 779.2L124 778.9L124 783.1L125 781.6L125 777.4L126 779.1L126 783.4L127 782.9L127 778.5L128 779.2L128 785.9L129 783.1L129 776L130 777.1L130 783.3L131 783.7L131 777.6L132 777.6L132 783L133 783L133 779.6L134 779L134 784.2L135 784.6L135 778.1L136 776.7L136 784.4L137 782.3L137 777.1L138 776.2L138 781.6L139 781.6L139 775.4L140 777.6L140 783.3L141 783.3L141 776.8L142 777.5L142 782.3L143 784.1L143 777.5L144 777.5L144 783.9L145 784.2L145 779.3L146 779.2L146 784.6L147 782.4L147 778.5L148 780.5L148 784.4L149 783.7L149 777.7L150 778.9L150 784.1L151 783L151 777.4L152 777.1L152 782.7L153 782.5L153 777.4L154 778.4L154 782.3L155 783.1L155 778.9L156 777.3L156 783.8L157 783L157 776.6L158 775.6L158 782.8L159 783.8L159 776.7L160 778.9L160 786L161 783.3L161 777.9L162 778.4L162 782.7L163 781.6L163 776.1L164 777.6L164 782.6L165 783.5L165 779.5L166 778.4L166 782.8L167 783.3L167 778.6L168 776.8L168 781.9L169 784.6L169 779.1L170 778.1L170 783.8L171 782.9L171 778.2L172 779L172 783.6L173 782.2L173 778.3L174 778.2L174 784.7L175 785.5L175 778.7L176 778.3L176 783.3L177 784.2L177 779.2L178 776.9L178 785.2L179 784.5L179 778.7L180 777.9L180 784.5L181 784.3L181 779.3L182 777.5L182 783.3L183 783.8L183 779.9L184 776.1L184 782.9L185 782.6L185 777.7L186 776.5L186 783.4L187 781.9L187 777.6L188 780L188 783.7L189 782.6L189 778.5L190 778.5L190 783.1L191 782.4L191 776.8L192 775.6L192 781.1L193 782.1L193 778.1L194 774.6L194 781.5L195 784.2L195 778.1L196 778.5L196 783.4L197 782.5L197 778.3L198 779.3L198 782.9L199 785.1L199 778.4L200 778.2L200 784.8L201 783.8L201 777.2L202 778.8L202 785.1L203 782.3L203 779.8L204 779L204 782.8L205 783.9L205 776.8L206 776.6L206 783.5L207 782.3L207 777.1L208 776.4L208 783L209 783.4L209 776.3L210 779.3L210 782.7L211 782.9L211 777L212 774.6L212 781.7L213 780L213 774.2L214 773.5L214 779L215 780.7L215 774.9L216 772.3L216 780.9L217 781.8L217 774.5L218 774.6L218 781.2L219 779.1L219 775.1L220 775.3L220 779.1L221 780.7L221 771.2L222 773.9L222 780.7L223 779.6L223 773.9L224 774L224 779.8L225 779.9L225 774L226 772.8L226 779.6L227 779.4L227 772.9L228 771.2L228 778.2L229 777.4L229 772.4L230 770.3L230 775.6L231 777.9L231 772.8L232 770.2L232 777.7L233 780.2L233 773.2L234 772.2L234 777.6L235 778L235 772.1L236 772.6L236 778.5L237 775L237 772.2L238 771.1L238 776.7L239 776.6L239 773.7L240 770.3L240 776.9L241 778.7L241 772.8L242 771.1L242 775.9L243 777.3L243 770.4L244 771.7L244 775.2L245 776.8L245 772.1L246 769.2L246 777.2L247 776.5L247 771L248 770.5L248 775.3L249 775.6L249 772.3L250 769.6L250 774.9L251 774.7L251 767.4L252 769.4L252 774.1L253 774.1L253 766.4L254 767.1L254 772.9L255 771.6L255 767.8L256 768.7L256 772.3L257 772.3L257 767.9L258 766.9L258 771.4L259 770.5L259 767.4L260 766.9L260 775.2L261 770.9L261 765.3L262 764L262 769.7L263 771.3L263 767L264 767L264 772.1L265 775.7L265 768.5L266 766.9L266 773.2L267 775.6L267 769.4L268 767.5L268 772.3L269 773.5L269 766.1L270 766.9L270 773.3L271 769.6L271 765.1L272 765L272 768.9L273 771.2L273 762.2L274 761.9L274 769L275 767.8L275 761.6L276 765.3L276 769.9L277 766.9L277 762.7L278 761.1L278 768.6L279 766L279 759.3L280 761.4L280 766.6L281 764.4L281 760.4L282 759.6L282 765.3L283 765L283 760.8L284 760.2L284 765.1L285 765.6L285 757.7L286 758.6L286 766.2L287 762.2L287 756.2L288 756.2L288 765.5L289 764.1L289 758L290 756.2L290 763.2L291 764L291 757.4L292 757.3L292 765.5L293 764.8L293 754.5L294 754.5L294 765L295 762.2L295 753.4L296 753.9L296 764.6L297 761.8L297 752.8L298 754L298 763L299 760.1L299 754.7L300 753.5L300 759.2L301 759.9L301 755.1L302 751.9L302 759.4L303 762.2L303 754.7L304 751.5L304 760.4L305 756.7L305 750.9L306 752L306 757.8L307 759.4L307 751.6L308 747.4L308 757L309 756.9L309 751.1L310 749.3L310 758.2L311 758.4L311 750.7L312 753.8L312 759.4L313 762.1L313 754.3L314 753.8L314 760.3L315 759.8L315 754.7L316 753.1L316 760.2L317 758.8L317 751.4L318 750.6L318 756.3L319 756.3L319 750L320 746.6L320 754.5L321 761.6L321 748.1L322 747.8L322 751.6L323 754.3L323 746.8L324 744.1L324 754.6L325 751.6L325 747.6L326 744.1L326 754.9L327 748.9L327 742.5L328 744.5L328 751.8L329 751.1L329 744.1L330 743.1L330 750.6L331 750.7L331 745.9L332 747.2L332 752.4L333 751.4L333 745.9L334 748.1L334 751L335 754.2L335 745.9L336 745.2L336 750L337 749.6L337 743L338 744L338 748.8L339 748L339 742.5L340 743.2L340 751.1L341 751.5L341 744.1L342 747.9L342 754.1L343 751.8L343 747.8L344 748.8L344 754.9L345 756.7L345 748.6L346 747.2L346 754L347 752.8L347 747.5L348 748.8L348 753.7L349 751.5L349 745.9L350 743.7L350 752.1L351 749.3L351 741.6L352 743.4L352 751L353 750.6L353 745.3L354 745.2L354 751.8L355 751.5L355 745.3L356 746.8L356 754.2L357 756.4L357 745.9L358 743.4L358 754.7L359 752.4L359 745L360 745.5L360 753.6L361 752.7L361 747L362 745.8L362 751.1L363 750.5L363 745.6L364 745.3L364 751.3L365 752L365 745.8L366 744.9L366 751.6L367 751.8L367 744.2L368 744.2L368 754.3L369 750.4L369 744L370 740.8L370 749.7L371 749.7L371 742.4L372 745.9L372 750.5L373 751.6L373 745.1L374 746.5L374 750.7L375 750.3L375 742.5L376 741.6L376 750.3L377 747.2L377 738L378 737.9L378 747.3L379 745.9L379 741L380 737.5L380 746.9L381 751.4L381 743.8L382 744.5L382 754.4L383 753L383 744.4L384 747.8L384 756.1L385 754.2L385 749.2L386 748.5L386 757L387 753.5L387 748.6L388 749.1L388 758.3L389 755.1L389 748L390 746L390 755.6L391 754.8L391 749.2L392 747.2L392 755.5L393 755.1L393 747.2L394 747.8L394 756.4L395 756.8L395 747.4L396 749.2L396 756.7L397 754.5L397 749.4L398 747.6L398 752.3L399 755L399 746.6L400 746L400 753.7L401 754.6L401 745.3L402 746.9L402 755.3L403 757.4L403 752L404 749.6L404 752.7L405 753.9L405 744.8L406 748.7L406 753.3L407 754.5L407 749L408 747.8L408 755.9L409 754.8L409 749.6L410 748L410 754.5L411 750.3L411 745.8L412 742.6L412 746L413 744.7L413 738.5L414 737.6L414 743.3L415 743.7L415 736.6L416 731.6L416 739.9L417 733.4L417 725.1L418 718.4L418 729.3L419 724.2L419 712.5L420 703.8L420 718.6L421 704.7L421 693.2L422 682.3L422 696.2L423 684L423 664L424 646.1L424 664L425 642.1L425 623.3L426 595L426 619.9L427 592.9L427 569.4L428 548.5L428 565.5L429 547.1L429 543.2L430 544.7L430 556.1L431 580.8L431 557.1L432 581.1L432 608.7L433 634.8L433 610.6L434 637.7L434 656.3L435 678.3L435 657.6L436 676.9L436 695.3L437 708.2L437 696.8L438 707.9L438 718.9L439 726.9L439 717.4L440 726.7L440 736.4L441 737.5L441 731.5L442 736.4L442 743.6L443 747.5L443 739.7L444 740.7L444 747.5L445 754.8L445 746.5L446 746.6L446 755.2L447 758.9L447 751.3L448 749.7L448 758.7L449 756.6L449 752.3L450 752.5L450 757.6L451 759L451 752.3L452 756.9L452 760L453 765.8L453 758.8L454 761.5L454 765.1L455 766.7L455 762.2L456 762.8L456 768.3L457 769.8L457 762.6L458 763.8L458 769L459 769.5L459 765.5L460 763.5L460 771.1L461 773.7L461 766.3L462 769.2L462 774.2L463 773.5L463 769.8L464 767.8L464 775.2L465 774.5L465 769.4L466 769.6L466 774.2L467 773.7L467 770.9L468 769.7L468 775.7L469 778.4L469 769.1L470 770.9L470 776.7L471 776.6L471 771.8L472 772.7L472 779.6L473 778.2L473 775.7L474 773.3L474 780.2L475 777.3L475 774.4L476 772.1L476 779.8L477 778.9L477 774.1L478 774.3L478 778.6L479 779.6L479 772.7L480 774.3L480 780.7L481 782.3L481 775.8L482 774.5L482 780.4L483 779.7L483 776.7L484 772.6L484 780.6L485 779.3L485 774.7L486 774.8L486 780.2L487 780.3L487 775.4L488 775.8L488 780.4L489 780.5L489 774.7L490 774.6L490 779.8L491 781.6L491 776.1L492 777.2L492 781.5L493 782.5L493 776.4L494 778.8L494 781.9L495 782.4L495 779.4L496 779.4L496 784.6L497 782.8L497 775.2L498 777.6L498 783.1L499 780.6L499 778.4L500 775.2L500 781.3L501 780L501 776.7L502 777.3L502 783L503 783.3L503 778.2L504 778.4L504 781.1L505 782.8L505 778.5L506 775.4L506 783.7L507 782.9L507 778.4L508 778.9L508 782.7L509 784.5L509 776.4L510 777.1L510 783.7L511 783.6L511 777.7L512 779.9L512 783.9L513 784.9L513 778.7L514 779.7L514 785.3L515 787.2L515 779.1L516 781L516 785.2L517 785.9L517 779.8L518 778.9L518 783L519 784.4L519 779.4L520 779.6L520 785.1L521 785.1L521 779.2L522 779.3L522 784.6L523 784.5L523 780.7L524 778.6L524 783.2L525 781.3L525 777.4L526 773.5L526 781.6L527 775.7L527 772.5L528 772.9L528 778.3L529 778.5L529 773.2L530 776.7L530 779.4L531 783.8L531 777.7L532 779.6L532 785L533 785.9L533 781L534 779.5L534 786.4L535 785.8L535 781.8L536 780L536 786.7L537 786.7L537 780.8L538 780.8L538 786.3L539 784L539 779.5L540 780.1L540 784.4L541 783.7L541 778.3L542 779.1L542 783.6L543 784.2L543 780L544 780.7L544 784.4L545 786.1L545 779.4L546 782.6L546 787L547 787.9L547 783.4L548 780.5L548 787.5L549 786.2L549 783.2L550 782.8L550 785.2L551 784L551 780.1L552 781.1L552 786.4L553 785.5L553 779.5L554 781.7L554 785.8L555 786L555 781L556 778.7L556 786.9L557 785.3L557 781.3L558 780L558 784.8L559 785.3L559 780.8L560 779.6L560 784.8L561 784.2L561 780.6L562 781.2L562 786.7L563 785.8L563 779.8L564 780.4L564 783.2L565 786.2L565 779.8L566 779.4L566 785.3L567 784.4L567 781.3L568 781.5L568 788.6L569 787L569 783L570 783.2L570 786.2L571 786L571 782.3L572 782.8L572 787.1L573 787L573 782L574 782.3L574 787.4L575 787.4L575 783.8L576 781.3L576 788.5L577 788.4L577 783.4L578 783.8L578 786.3L579 787.5L579 785L580 785.4L580 789.8L581 789.4L581 784.2L582 785.2L582 792.1L583 790.7L583 786.1L584 786.5L584 790L585 790.8L585 785.2L586 785.9L586 789.1L587 789.9L587 784.1L588 781.6L588 788.4L589 788.1L589 783.9L590 783.9L590 788.9L591 788.5L591 784L592 784.3L592 790.3L593 789.2L593 784.8L594 783.8L594 790.1L595 790.3L595 785L596 786.2L596 791.6L597 792.6L597 785.8L598 785.2L598 790.8L599 791.2L599 786.9L600 785.4L600 790.8L601 789.6L601 785.4L602 783.9L602 790.4L603 789.4L603 783.3L604 782.8L604 789.6L605 787L605 782L606 783.4L606 789.6L607 789.7L607 784.3L608 787L608 790L609 790.9L609 788.2L610 786.5L610 792.4L611 791.3L611 786.3L612 785.6L612 789.3L613 789.8L613 783.9L614 785L614 788.9L615 788.7L615 786.1L616 784.6L616 788.5L617 790.7L617 787.3L618 787L618 791.8L619 790L619 785.9L620 785.1L620 791.6L621 792.5L621 786.5L622 786.7L622 791.2L623 790.6L623 786.7L624 786.9L624 791.3L625 790.2L625 785.6L626 786.5L626 792.3L627 789.2L627 784.7L628 782.8L628 790L629 792.5L629 785L630 787.3L630 791.3L631 791.4L631 786.8L632 787.1L632 790.6L633 792L633 786.6L634 786.1L634 789.8L635 788.9L635 785.5L636 786.1L636 790.2L637 790.5L637 786.7L638 787.2L638 790.6L639 789.1L639 784.4L640 784.4L640 789.5L641 787.3L641 784.2L642 781.5L642 786.5L643 787.6L643 782L644 783.5L644 788.1L645 787.8L645 783.7L646 785.8L646 790.2L647 790.4L647 785.8L648 786.4L648 790.8L649 791L649 784.8L650 784.9L650 791.3L651 790.2L651 786.4L652 784.8L652 788.6L653 791.4L653 785.3L654 784L654 788.2L655 790.3L655 785L656 782.8L656 788.6L657 787.5L657 783.4L658 782.9L658 788.3L659 786.7L659 781.9L660 783.1L660 787.4L661 785.7L661 782.2L662 778.3L662 785.5L663 783.3L663 779.9L664 777.3L664 784.9L665 780.9L665 776.2L666 774.9L666 780.5L667 778.5L667 773.9L668 774.7L668 778.5L669 778.8L669 772.3L670 773.1L670 777.7L671 779.8L671 774.3L672 775.7L672 782.2L673 781.8L673 775.2L674 775.7L674 779.8L675 779.7L675 775.7L676 775.4L676 779.7L677 781.6L677 774.9L678 771.5L678 776.1L679 774L679 770.5L680 766.8L680 771.9L681 769.3L681 765L682 759.2L682 767.3L683 764.4L683 759L684 753.3L684 760.3L685 756L685 751.3L686 750.5L686 753.9L687 756.4L687 751L688 754L688 758.1L689 762.1L689 758.1L690 761.5L690 768.5L691 770.3L691 764.9L692 767.5L692 775.4L693 775L693 772.5L694 772.9L694 777L695 778.3L695 773.8L696 774.4L696 778.9L697 778.8L697 772.9L698 776.2L698 780.1L699 782.4L699 775.9L700 774.5L700 779.1L701 778.2L701 775.6L702 775.9L702 779.8L703 780.7L703 777.8L704 779.5L704 782.8L705 784.2L705 779.9L706 781.1L706 786.2L707 787.1L707 782.5L708 783.1L708 788.1L709 788.8L709 784.8L710 785.3L710 789L711 790.5L711 785.1L712 785.8L712 789.8L713 789L713 784.9L714 785.6L714 790.6L715 789.5L715 786.6L716 785.6L716 789.5L717 792.1L717 788.6L718 788.2L718 793.1L719 792.9L719 790.1L720 789.3L720 793.7L721 793.7L721 790L722 789.7L722 793.8L723 792.7L723 789.6L724 791.4L724 794.9L725 794.4L725 788.9L726 791.5L726 795.1L727 793.6L727 789.3L728 789.4L728 793.7L729 793.9L729 789.2L730 789.9L730 794.1L731 793.8L731 790.8L732 790.7L732 792.9L733 796.1L733 790.3L734 791.6L734 795.3L735 795.2L735 792.3L736 791.6L736 793.5L737 794.1L737 791.5L738 791.1L738 794.9L739 796.3L739 790.7L740 790.5L740 793.5L741 793.8L741 789.7L742 791L742 793.7L743 794.2L743 791.5L744 789.5L744 794.8L745 795.3L745 792.8L746 793.2L746 796L747 796L747 791.3L748 790.8L748 794.5L749 794.5L749 790.7L750 792.6L750 795.4L751 796.2L751 793L752 791.8L752 795.8L753 795.2L753 793.3L754 792.5L754 795.1L755 795.5L755 791.2L756 790.6L756 795.9L757 795.4L757 793.1L758 791.3L758 796.7L759 797L759 792.4L760 793.1L760 797.4L761 795.1L761 792.1L762 792L762 795.6L763 795.2L763 792.3L764 791.7L764 795.2L765 796.1L765 792.6L766 791.6L766 796.4L767 796.7L767 792.9L768 791.5L768 796.3L769 795.8L769 792.1L770 793.3L770 797.1L771 797.9L771 793.8L772 794.4L772 797.4L773 799.5L773 795.6L774 795.7L774 799.1L775 797.9L775 793L776 794.2L776 797.1L777 796.4L777 791.7L778 792.9L778 797.1L779 797.8L779 792.2L780 792.8L780 795.8L781 794.8L781 791L782 792.6L782 795.5L783 794.5L783 791.9L784 793.3L784 796.1L785 797.8L785 794.3L786 794.5L786 796.3L787 798.7L787 794.2L788 795.1L788 798L789 797.9L789 794L790 793.4L790 798.1L791 796.5L791 791.7L792 792.4L792 796.8L793 794.4L793 791.2L794 790.8L794 794.7L795 795.6L795 791.8L796 792.6L796 796.1L797 796.9L797 792.3L798 794.3L798 796.9L799 797.5L799 792.4L800 792.6L800 797.3L801 796.7L801 793.5L802 792.9L802 796.2L803 794.8L803 790.4L804 791.4L804 794.6L805 795.7L805 791.3L806 790.8L806 794.5L807 794.5L807 789.9L808 790.4L808 794.2L809 795.8L809 792.2L810 792.8L810 795.3L811 795.8L811 793.2L812 792.1L812 795.2L813 795.5L813 792.5L814 791.7L814 796L815 795.4L815 792.1L816 792.1L816 795.5L817 795.6L817 792.7L818 791.8L818 795.5L819 796.2L819 793.4L820 792.8L820 795.7L821 796.2L821 792.9L822 793.2L822 796.7L823 797.2L823 791.7L824 792.8L824 795.7L825 796.7L825 791.7L826 792.8L826 795.9L827 795.8L827 792.9L828 792L828 796.7L829 798.2L829 792.8L830 792.1L830 797.2L831 796.4L831 792.6L832 791.4L832 795.5L833 795.7L833 792.6L834 791.7L834 794.5L835 794.8L835 791.1L836 790.6L836 795.4L837 793.1L837 789.9L838 790.3L838 792.9L839 793.7L839 790.6L840 789.6L840 792.5L841 794.1L841 788.9L842 790.3L842 793.6L843 794.3L843 789.5L844 789.2L844 793.8L845 794.7L845 791.5L846 790.7L846 794.3L847 793.4L847 790.2L848 788L848 791.7L849 793.6L849 789.2L850 789.6L850 793.5L851 793.2L851 789.7L852 791.6L852 794.7L853 794.3L853 790.2L854 790.7L854 794L855 793.6L855 789.3L856 789.8L856 792.8L857 792.2L857 788.7L858 789.2L858 791.7L859 793.4L859 789.1L860 789.7L860 792.6L861 793.4L861 790.5L862 790.4L862 793.7L863 794.5L863 790.8L864 790.4L864 793.2L865 793.1L865 789L866 788.6L866 792.6L867 792.3L867 787.9L868 788.5L868 791.1L869 792.5L869 787.2L870 787.3L870 790.5L871 789.8L871 787L872 787.3L872 790.8L873 790.6L873 785.7L874 787.2L874 792.2L875 790.7L875 785.2L876 786.4L876 789.7L877 789L877 785.6L878 784.7L878 788.4L879 787.1L879 784.8L880 784.2L880 786.7L881 786.5L881 782.8L882 782.2L882 785.5L883 782.8L883 779L884 776.1L884 781L885 777.9L885 775.1L886 770.4L886 775.8L887 772L887 766.6L888 761.8L888 769.5L889 762.4L889 756.5L890 752.7L890 756.4L891 752.8L891 745.8L892 743.1L892 746.5L893 743.3L893 740.7L894 740.4L894 743.2L895 748.7L895 743.2L896 745.3L896 750.8L897 757.9L897 750.8L898 755.8L898 762.7L899 767.7L899 762.1L900 767.6L900 771.6L901 776.1L901 770.7L902 774L902 777L903 781.7L903 776.5L904 779.5L904 782.3L905 783.7L905 779L906 781.6L906 785.5L907 786L907 782.4L908 783.8L908 786L909 787.1L909 783.3L910 783L910 788L911 788.7L911 784.7L912 785.8L912 789.3L913 789.5L913 785.2L914 785.9L914 791.3L915 790.4L915 787.5L916 787.9L916 792.2L917 791.4L917 788L918 788.5L918 792.1L919 791.8L919 788.8L920 788.2L920 792.3L921 790.9L921 788.3L922 789.3L922 791.7L923 791.9L923 788.4L924 789L924 792.6L925 793L925 789.4L926 789.3L926 793.2L927 793.1L927 789.3L928 789.9L928 792.6L929 793.1L929 789.6L930 788.3L930 791.9L931 792.7L931 790.1L932 789.4L932 792.8L933 792.6L933 788.6L934 789.5L934 792.4L935 793.1L935 789.8L936 790.1L936 792.6L937 794.4L937 790.9L938 790.7L938 795.5L939 794.8L939 791.9L940 789.5L940 795.1L941 794L941 791.2L942 791.4L942 793.6L943 794.3L943 791.6L944 790.7L944 794.8L945 795.1L945 792.3L946 792L946 794.9L947 795.9L947 793L948 792.1L948 798.5L949 798.3L949 793.1L950 792.9L950 798.5L951 795.3L951 791.4L952 791.4L952 795.8L953 794.6L953 790.9L954 792.4L954 795L955 796.4L955 791.8L956 791L956 795.6L957 797.1L957 792.7L958 794L958 797.3L959 796.5L959 794L960 793.5L960 796.6L961 796L961 791.6L962 792.2L962 796L963 795.3L963 793L964 791.8L964 795.1L965 795.9L965 792.2L966 791.3L966 795.5L967 793.8L967 790.2L968 792.5L968 795.9L969 796.1L969 793L970 791.8L970 796.5L971 796.9L971 793.1L972 793.8L972 796.9L973 797.8L973 793.3L974 790.8L974 794.9L975 794.9L975 790.7L976 792.2L976 796L977 795.1L977 792.1L978 790.4L978 794.6L979 796.4L979 792L980 791.7L980 795.4L981 795L981 791.4L982 791.3L982 795.1L983 795.7L983 792.8L984 791.9L984 794.5L985 795.7L985 791.9L986 788.5L986 794.6L987 794.6L987 792L988 791.7L988 794.7L989 794.9L989 791.3L990 791.7L990 794.9L991 794.3L991 791.3L992 791L992 794.2L993 795.6L993 789.2L994 790.6L994 794.3L995 795.3L995 790L996 790.7L996 793.6L997 793.3L997 789.1L998 787.4L998 791.3L999 791.3L999 789L1000 786.4L1000 789.7L1001 789.6L1001 786.2L1002 784.4L1002 788.6L1003 787L1003 783.5L1004 782L1004 785.1L1005 783.4L1005 779.5L1006 778.5L1006 783L1007 779.9L1007 776L1008 772.7L1008 776L1009 772.6L1009 770.1L1010 765.5L1010 770.2L1011 768.2L1011 763.5L1012 761.6L1012 764.9L1013 763.8L1013 760.1L1014 760L1014 763.1L1015 764.5L1015 761.6L1016 763.7L1016 769.3L1017 770.6L1017 766.1L1018 769.9L1018 774L1019 777.3L1019 771.9L1020 773.3L1020 777.9L1021 781L1021 776.9L1022 777.6L1022 780.9L1023 780.8L1023 776.6L1024 778.6L1024 780.8L1025 781.9L1025 777.5L1026 776.8L1026 781.5L1027 781.2L1027 777.8L1028 776.2L1028 779.2L1029 780.3L1029 776.6L1030 776.4L1030 778.3L1031 778.3L1031 772.7L1032 771.1L1032 774.9L1033 772.1L1033 767.3L1034 764.7L1034 768.3L1035 765L1035 761.1L1036 758.6L1036 762.9L1037 760.6L1037 758.5L1038 759.3L1038 761.5L1039 763.1L1039 759.3L1040 763.3L1040 766.1L1041 768.6L1041 764.7L1042 768.8L1042 774L1043 776.5L1043 771.7L1044 774.8L1044 779.2L1045 779.7L1045 776.8L1046 778.8L1046 781.3L1047 785.2L1047 780.7L1048 782.6L1048 786.7L1049 786.8L1049 783.7L1050 784.9L1050 787.9L1051 788.2L1051 786.1L1052 786.2L1052 790.9L1053 789.1L1053 786.4L1054 788L1054 791.9L1055 791.7L1055 787.4L1056 788.2L1056 791.4L1057 790.9L1057 788.6L1058 789.7L1058 792.2L1059 792.5L1059 789.1L1060 791.3L1060 794.7L1061 794.1L1061 790.7L1062 791.1L1062 794.7L1063 793.5L1063 791.8L1064 790.3L1064 795L1065 795.6L1065 791.6L1066 792.5L1066 795.5L1067 796L1067 792.6L1068 792.9L1068 795.5L1069 795.9L1069 791.7L1070 791L1070 794.7L1071 793.9L1071 789.7L1072 791.1L1072 795.8L1073 795.3L1073 792.5L1074 792.6L1074 798.2L1075 797.9L1075 793L1076 794.5L1076 796.6L1077 797.9L1077 793.3L1078 792.3L1078 796L1079 795.2L1079 790.8L1080 790.5L1080 794.3L1081 796.5L1081 791L1082 791.7L1082 794.9L1083 795.5L1083 792.8L1084 790.5L1084 794.7L1085 794.7L1085 791.4L1086 791.8L1086 793.9L1087 795.3L1087 790.7L1088 792.3L1088 795.1L1089 796.3L1089 792.4L1090 791.6L1090 795.3L1091 797.5L1091 793L1092 792.9L1092 797.6L1093 796.5L1093 792.7L1094 793.9L1094 796.4L1095 797.7L1095 790.7L1096 794.5L1096 796.7L1097 795.3L1097 792.3L1098 793.3L1098 796.5L1099 795.6L1099 792.1L1100 792.8L1100 797.2L1101 795.8L1101 792.2L1102 791.9L1102 795.7L1103 795.9L1103 793.2L1104 792.8L1104 795.5L1105 794.9L1105 791.9L1106 791.5L1106 794.7L1107 795.4L1107 791.7L1108 790.7L1108 795.8L1109 796.5L1109 791.7L1110 792.7L1110 797.8L1111 795.7L1111 792L1112 792.8L1112 795.9L1113 795.7L1113 792.9L1114 792.4L1114 795.6L1115 795.1L1115 791.9L1116 792.4L1116 796.6L1117 796.7L1117 793.1L1118 793.7L1118 797.5L1119 798.5L1119 794.3L1120 791.5L1120 797.4L1121 796.2L1121 792.4L1122 793.9L1122 798L1123 796.3L1123 793.3L1124 792L1124 796.4L1125 797.8L1125 793.1L1126 792.5L1126 796.7L1127 796.1L1127 792.6L1128 792.7L1128 796.9L1129 796.7L1129 792.8L1130 792L1130 795.1L1131 795.9L1131 792.8L1132 793.4L1132 796.8L1133 796.4L1133 793.3L1134 794.7L1134 797.3L1135 797.5L1135 794.1L1136 794.3L1136 798.8L1137 798.1L1137 794.3L1138 793.4L1138 797.6L1139 797.8L1139 793.5L1140 793.6L1140 797.5L1141 798.7L1141 793.1L1142 793.3L1142 796.7L1143 797L1143 792.3L1144 792L1144 795.6L1145 795.2L1145 791.1L1146 792.8L1146 795.7L1147 794.7L1147 791.8L1148 791.5L1148 796.2L1149 795.4L1149 790.8L1150 791.1L1150 794.1L1151 794.6L1151 791.2L1152 792.6L1152 796.4L1153 797.6L1153 792.8L1154 793.7L1154 795.8L1155 795.5L1155 791L1156 792.6L1156 796.4L1157 795.6L1157 792.6L1158 791.9L1158 796.8L1159 795.6L1159 792.2L1160 791.4L1160 795.7L1161 796.1L1161 791.9L1162 792.2L1162 794L1163 794.9L1163 791.1L1164 790.7L1164 794.1L1165 795.6L1165 790.4L1166 790.8L1166 795.2L1167 794.4L1167 791L1168 791.4L1168 795.2L1169 795.7L1169 791.9L1170 792.5L1170 796L1171 794.5L1171 790.5L1172 792.6L1172 794.1L1173 795.3L1173 790.4L1174 788L1174 791.7L1175 793L1175 788.9L1176 789.4L1176 793L1177 792L1177 787.1L1178 788.2L1178 791.8L1179 792.4L1179 788.1L1180 785.1L1180 791L1181 790.5L1181 785L1182 785.4L1182 788.6L1183 788.1L1183 785.2L1184 784.7L1184 788L1185 786.6L1185 784.1L1186 782.3L1186 785.7L1187 784.5L1187 781.4L1188 779.2L1188 782.5L1189 781.3L1189 777.8L1190 775.6L1190 779.4L1191 777.8L1191 772.9L1192 771L1192 776.1L1193 774.2L1193 771L1194 769.6L1194 772.3L1195 771.8L1195 769L1196 769.5L1196 771.9L1197 773L1197 770L1198 770.2L1198 775L1199 775.6L1199 772.2L1200 773.6L1200 776.7L1201 780.3L1201 775.9L1202 777.7L1202 780.5L1203 783L1203 779.8L1204 781.5L1204 785.4L1205 785.5L1205 782L1206 782.8L1206 788.3L1207 788.8L1207 783.6L1208 785.5L1208 788.6L1209 789.2L1209 786.6L1210 787.2L1210 790.8L1211 793L1211 787.8L1212 790.3L1212 794.3L1213 793.7L1213 789.7L1214 789.5L1214 793.5L1215 793.3L1215 791.2L1216 790.3L1216 794.2L1217 794.6L1217 790.4L1218 792.2L1218 794.7L1219 794.7L1219 792.1L1220 791L1220 795L1221 794.9L1221 791.5L1222 791.4L1222 793.6L1223 794.8L1223 791.2L1224 791.9L1224 794.7L1225 795.3L1225 791.3L1226 792.6L1226 795L1227 795.1L1227 792.8L1228 792.3L1228 796.8L1229 798.5L1229 792.5L1230 795L1230 798.3L1231 796.7L1231 794.1L1232 794.3L1232 797.1L1233 797.4L1233 793.3L1234 794L1234 796.8L1235 797.6L1235 794.3L1236 794L1236 798.2L1237 798.6L1237 793.6L1238 794.3L1238 798L1239 797.8L1239 794.9L1240 794.8L1240 797.7L1241 798.1L1241 794.4L1242 794L1242 797.2L1243 797.1L1243 792.8L1244 792.4L1244 796L1245 794.6L1245 792L1246 792.1L1246 795.6L1247 796.9L1247 792.4L1248 793.4L1248 797.3L1249 797.5L1249 791.6L1250 793.2L1250 797.8L1251 798.8L1251 794.1L1252 795L1252 798.2L1253 797.3L1253 793.9L1254 794.5L1254 799.4L1255 797.2L1255 794.2L1256 792.9L1256 796.9L1257 796.7L1257 792.7L1258 793.7L1258 799L1259 798.4L1259 794L1260 793.1L1260 797.3L1261 798.3L1261 794.8L1262 795.3L1262 796.9L1263 797.8L1263 795L1264 794L1264 797.3L1265 798.5L1265 793.4L1266 793.6L1266 796.8L1267 797.2L1267 794L1268 792.8L1268 796.2L1269 797.3L1269 792.7L1270 792.9L1270 796.4L1271 797.9L1271 794.4L1272 794.1L1272 797.1L1273 797.2L1273 792.5L1274 794.3L1274 798.1L1275 799.3L1275 794.9L1276 795.7L1276 798.3L1277 798.7L1277 794.3L1278 796.2L1278 799.2L1279 799.1L1279 795.9L1280 796.4L1280 798.3L1281 798.2L1281 795.7L1282 794.9L1282 798.4L1283 797.6L1283 794.3L1284 793.6L1284 797.2L1285 800.2L1285 795.5L1286 795.3L1286 799.5L1287 799.1L1287 794.6L1288 795.3L1288 798.1L1289 798.5L1289 795L1290 794.9L1290 797.3L1291 798.3L1291 794.9L1292 794.3L1292 798.3L1293 797.2L1293 793.4L1294 793.7L1294 796.9L1295 796.7L1295 792.8L1296 792.4L1296 794.6L1297 797.5L1297 792.7L1298 792.4L1298 796.5L1299 797.1L1299 792.8L1300 794.4L1300 796.6L1301 796.3L1301 793.5L1302 792.6L1302 798.7L1303 794.8L1303 791.8L1304 788.8L1304 795.4L1305 794.9L1305 790.5L1306 791L1306 794.9L1307 793.3L1307 790.5L1308 789.6L1308 793.6L1309 794.3L1309 791.4L1310 791.8L1310 795.4L1311 794.2L1311 790.4L1312 790.3L1312 796.6L1313 793.4L1313 790.2L1314 787.7L1314 791.8L1315 792.2L1315 787.9L1316 788.2L1316 791.2L1317 789.8L1317 786.2L1318 785.6L1318 789.7L1319 791.5L1319 787.3L1320 788.2L1320 791.1L1321 791.6L1321 788L1322 788.8L1322 791.5L1323 792.3L1323 787.8L1324 788L1324 790.9L1325 791.2L1325 788.8L1326 787.5L1326 791.3L1327 793L1327 789.2L1328 788.4L1328 793.3L1329 792.2L1329 789.3L1330 790.6L1330 793.6L1331 793.8L1331 790.6L1332 789.2L1332 793.3L1333 794.2L1333 788.6L1334 789L1334 792.7L1335 793.2L1335 790L1336 790.2L1336 794.3L1337 795.2L1337 789.7L1338 789.8L1338 793.3L1339 794L1339 791.3L1340 790.6L1340 793.2L1341 793L1341 788.7L1342 788.8L1342 791.9L1343 790.4L1343 787.5L1344 785.7L1344 791.2L1345 788.1L1345 783.4L1346 783.4L1346 788L1347 786.2L1347 782.7L1348 783.4L1348 786.6L1349 787.3L1349 781.7L1350 784.8L1350 788.5L1351 789.2L1351 785.8L1352 786L1352 790.7L1353 791.4L1353 788.9L1354 789.7L1354 792.9L1355 793.7L1355 791.1L1356 790.9L1356 795.9L1357 793.2L1357 790.6L1358 789.4L1358 793.1L1359 793.6L1359 791.4L1360 791.6L1360 794.3L1361 795.2L1361 789.8L1362 792.2L1362 795L1363 795.1L1363 791.3L1364 791.6L1364 796.3L1365 795.5L1365 792.5L1366 791.9L1366 797.9L1367 796.7L1367 793.2L1368 793.4L1368 796.2L1369 797.6L1369 794.3L1370 792.8L1370 795.3L1371 796.8L1371 793.1L1372 793.7L1372 796.9L1373 797.4L1373 794.1L1374 794.9L1374 797.3L1375 797.5L1375 794.7L1376 792.2L1376 797.7L1377 796.5L1377 792.6L1378 793.9L1378 796.3L1379 796.7L1379 794L1380 794.7L1380 798L1381 798.6L1381 795L1382 794.9L1382 799.9L1383 798.6L1383 795.1L1384 796.3L1384 799.8L1385 799L1385 794.5L1386 795.1L1386 798.4L1387 799.9L1387 795.7L1388 795.4L1388 800L1389 799.7L1389 796.5L1390 796.2L1390 800.7L1391 799.1L1391 794.9L1392 796.3L1392 800.7L1393 799.3L1393 796.1L1394 793.9L1394 798.5L1395 799.1L1395 794.1L1396 796.2L1396 799.3L1397 801L1397 793.1L1398 795.7L1398 799.2L1399 798.2L1399 795.9L1400 795.1L1400 798.9L1401 798.8L1401 795.1L1402 795.3L1402 798.5L1403 797.9L1403 793.4L1404 794.7L1404 797.3L1405 799.9L1405 793.9L1406 795L1406 798L1407 797.7L1407 794.8L1408 795.9L1408 799.1L1409 798.2L1409 794.4L1410 794.5L1410 798.6L1411 798.1L1411 794.9L1412 795.8L1412 799L1413 798.7L1413 794.7L1414 794.7L1414 798.7L1415 798.9L1415 794L1416 794.5L1416 799L1417 799.5L1417 794.4L1418 794.3L1418 799.5L1419 797.5L1419 795.5L1420 794.3L1420 798.4L1421 797.7L1421 794.2L1422 794.5L1422 797.8L1423 796.2L1423 793L1424 794.5L1424 797.4L1425 796.5L1425 793.1L1426 792.9L1426 797L1427 795.8L1427 792.6L1428 791.4L1428 797.6L1429 797L1429 793.3L1430 793.2L1430 797.6L1431 799.3L1431 792.6L1432 793.1L1432 795.1L1433 794.3L1433 791.1L1434 789.9L1434 793.4L1435 793.8L1435 789.7L1436 790.2L1436 793.7L1437 792.2L1437 788.1L1438 787.1L1438 790.5L1439 790.3L1439 786.3L1440 786.4L1440 789.4L1441 788.8L1441 784.7L1442 783.7L1442 788L1443 787.1L1443 783.3L1444 782.2L1444 785.1L1445 785.2L1445 781.1L1446 781.9L1446 785.6L1447 784.9L1447 782.3L1448 782.2L1448 785.8L1449 786.4L1449 782.8L1450 785.8L1450 788.8L1451 788.6L1451 784.6L1452 787.6L1452 790.5L1453 793L1453 785.9L1454 787.5L1454 792.2L1455 795L1455 790.1L1456 789.8L1456 793.9L1457 794.7L1457 790.8L1458 791.1L1458 793.9L1459 795L1459 790.4L1460 791L1460 795.3L1461 795.7L1461 791.2L1462 790.7L1462 794.1L1463 795.1L1463 790.2L1464 789.7L1464 792.4L1465 796.4L1465 791.5L1466 792.8L1466 798.4L1467 797.6L1467 792.8L1468 795.2L1468 798.9L1469 799.2L1469 796.9L1470 795.1L1470 799.7L1471 799.7L1471 794.1L1472 795.3L1472 799.5L1473 801.2L1473 795.1L1474 795.5L1474 799.2L1475 800.9L1475 797L1476 796L1476 799.8L1477 799L1477 794.2L1478 793.8L1478 797.8L1479 798L1479 793.1L1480 793.6L1480 795.4L1481 796L1481 794L1482 794.2L1482 798.2L1483 798.8L1483 795.1L1484 795.6L1484 798.6L1485 799.2L1485 794.5L1486 796.1L1486 799.7L1487 799L1487 793.9L1488 795.3L1488 800.4L1489 799.1L1489 795L1490 793.2L1490 797.6L1491 796.9L1491 792.9L1492 793.3L1492 796.8L1493 797.6L1493 791.9L1494 793.5L1494 798.2L1495 797.2L1495 794.3L1496 794.7L1496 798.5L1497 798.7L1497 795.4L1498 797.1L1498 800.6L1499 800.1L1499 794.9L1500 796.5L1500 801.4L1501 798.5L1501 796.2L1502 796.1L1502 802L1503 799.9L1503 794.6L1504 795.7L1504 799.6L1505 800.1L1505 796.3L1506 797.8L1506 800.8L1507 798.8L1507 795.3L1508 796.3L1508 799.6L1509 801.6L1509 796.2L1510 796.7L1510 800.2L1511 801.9L1511 796.4L1512 796.8L1512 801.2L1513 800.4L1513 797.2L1514 795.8L1514 800.7L1515 800.1L1515 795.5L1516 795.1L1516 798.6L1517 800.5L1517 794.8L1518 795.2L1518 798.4L1519 798.9L1519 795.9L1520 795.8L1520 800.6L1521 802.5L1521 796.1L1522 794.9L1522 800.4L1523 798.7L1523 795.4L1524 796L1524 799.1L1525 799.4L1525 796L1526 795.5L1526 797.6L1527 799.5L1527 795.4L1528 794.6L1528 798.5L1529 797.8L1529 794.2L1530 795L1530 797.6L1531 799.7L1531 794.5L1532 796.7L1532 799.3L1533 801L1533 796.3L1534 795.7L1534 801.6L1535 799.9L1535 796L1536 794.7L1536 798.4L1537 799L1537 794.9L1538 793.3L1538 797.8L1539 798.7L1539 793.9L1540 794.1L1540 798.6L1541 798.9L1541 794.6L1542 793.8L1542 798.3L1543 798.7L1543 796.1L1544 796.2L1544 799.9L1545 798.8L1545 796.8"/>
<path stroke="#000000" d="M113 1042.9L113 1035.9L114 1037L114 1041.7L115 1044L115 1038.3L116 1036.4L116 1043.3L117 1042.7L117 1036.5L118 1034.8L118 1039.5L119 1041.6L119 1035.6L120 1037L120 1040.9L121 1043.4L121 1038.4L122 1037.6L122 1044L123 1043.9L123 1038.3L124 1037.7L124 1044L125 1045.2L125 1038.7L126 1036.5L126 1045L127 1044.5L127 1037.9L128 1039L128 1044.5L129 1044.4L129 1039.4L130 1040L130 1044.9L131 1044.6L131 1037L132 1039.5L132 1043.9L133 1044.5L133 1036.6L134 1035.9L134 1040.8L135 1041.6L135 1034.5L136 1036L136 1042L137 1042.3L137 1038L138 1037.5L138 1043.9L139 1046.7L139 1039.9L140 1037.5L140 1044L141 1042.8L141 1034.5L142 1035.4L142 1041.6L143 1042.8L143 1034.7L144 1035.8L144 1043.8L145 1041L145 1035.1L146 1036L146 1040.8L147 1041.1L147 1033L148 1035.8L148 1041.6L149 1040.7L149 1034.6L150 1037.5L150 1042.7L151 1045.9L151 1036.7L152 1038.4L152 1044.1L153 1044.6L153 1037.5L154 1039L154 1044.9L155 1043.2L155 1035.9L156 1037.7L156 1041.3L157 1041.7L157 1034.2L158 1032.4L158 1040.6L159 1043.3L159 1036.5L160 1037.1L160 1040.1L161 1041.9L161 1038L162 1038.2L162 1042.1L163 1043.2L163 1036.7L164 1035.2L164 1044.4L165 1040.1L165 1035.6L166 1034.6L166 1042.1L167 1040.8L167 1034L168 1035.9L168 1042.1L169 1040.8L169 1034.9L170 1030.3L170 1042.7L171 1039.5L171 1035.8L172 1033.9L172 1042.7L173 1040.3L173 1034.6L174 1033.7L174 1041.2L175 1040.3L175 1034.7L176 1034.6L176 1040.1L177 1040.2L177 1033.8L178 1033.9L178 1039.6L179 1041.2L179 1034.5L180 1034.9L180 1041L181 1039.1L181 1034.5L182 1030.2L182 1041.4L183 1037.5L183 1030.8L184 1030.5L184 1035.7L185 1035.7L185 1029.7L186 1031.5L186 1037.7L187 1034.8L187 1031.3L188 1029.6L188 1036.3L189 1035.9L189 1030.4L190 1028.4L190 1036.6L191 1036.9L191 1027.8L192 1028.9L192 1034.3L193 1035.5L193 1029.6L194 1027.3L194 1037.2L195 1037L195 1029.9L196 1028.6L196 1036.6L197 1035.7L197 1026.1L198 1030L198 1034L199 1033.1L199 1027.7L200 1030.2L200 1034.1L201 1035.9L201 1028.9L202 1029.3L202 1033.5L203 1035.7L203 1030.6L204 1029.8L204 1037.5L205 1038.3L205 1029.7L206 1029.3L206 1036.7L207 1037.2L207 1027.5L208 1029.7L208 1036.9L209 1036.1L209 1030.2L210 1028.2L210 1035.9L211 1033.4L211 1027.4L212 1026.3L212 1032.4L213 1029.9L213 1023.9L214 1023.7L214 1032.3L215 1030.1L215 1021.7L216 1024L216 1028.9L217 1030.1L217 1020.8L218 1023.4L218 1029.7L219 1029.8L219 1022.8L220 1022.8L220 1028.6L221 1027.9L221 1021.2L222 1021.7L222 1032.1L223 1027.7L223 1020.9L224 1019.2L224 1029L225 1027.6L225 1019.3L226 1019.8L226 1027.8L227 1025.3L227 1018.4L228 1018L228 1025.1L229 1027.5L229 1015L230 1018.6L230 1024.2L231 1024.5L231 1017.1L232 1018.7L232 1025.3L233 1027L233 1018.7L234 1018.3L234 1022.2L235 1022.5L235 1013.9L236 1016.3L236 1021.8L237 1020.3L237 1012.1L238 1011.1L238 1021.5L239 1019.7L239 1011.3L240 1012.1L240 1019.7L241 1019.1L241 1014.3L242 1011.4L242 1021.4L243 1024L243 1013.8L244 1013.2L244 1022.9L245 1020L245 1010.5L246 1009.9L246 1017.6L247 1014.6L247 1006.5L248 1007.5L248 1018.1L249 1014.3L249 1006.5L250 1006.6L250 1014.2L251 1012L251 1004.7L252 1004.6L252 1012.4L253 1011.9L253 1003.4L254 1000.6L254 1013.6L255 1010.1L255 1002.4L256 1001.2L256 1007.1L257 1010L257 1001.4L258 1002.2L258 1012.3L259 1013.3L259 997.4L260 999L260 1012.3L261 1008.3L261 1000.9L262 1000.2L262 1008.3L263 1009.7L263 1003.1L264 1001.1L264 1011.9L265 1008.5L265 1004.8L266 1004L266 1010.3L267 1009.8L267 1001.6L268 1000.1L268 1006.7L269 1008.9L269 996.5L270 995.6L270 1004.1L271 1002.9L271 992L272 992.2L272 1002.4L273 1003.8L273 990.6L274 992.8L274 1003.2L275 1005.4L275 996.5L276 992.8L276 1003.6L277 1005.9L277 992.5L278 992.8L278 1005.8L279 1002.4L279 989L280 991.1L280 999.9L281 996.4L281 988.2L282 985.7L282 997.5L283 993.2L283 983L284 985.9L284 992.3L285 985.4L285 978.2L286 977.4L286 990.1L287 991.5L287 982.2L288 978.1L288 987.4L289 983.1L289 976L290 971.7L290 980.9L291 981L291 968.7L292 968L292 981L293 977.5L293 963.2L294 966.3L294 976.9L295 978.1L295 966.9L296 968.3L296 977L297 979.9L297 966.8L298 961.7L298 979.7L299 974.1L299 964.7L300 961.8L300 979.4L301 966.7L301 959.6L302 961.6L302 972.8L303 967L303 956.3L304 955.7L304 965.6L305 964.4L305 954.5L306 956.2L306 965.8L307 964.9L307 951L308 953.7L308 968.6L309 967.1L309 954.2L310 951L310 966.3L311 963.1L311 953.5L312 951.4L312 964.3L313 961.9L313 953.7L314 945.3L314 963.5L315 964.6L315 955L316 951.6L316 963.9L317 967.4L317 949.5L318 949.4L318 963.9L319 959L319 946.7L320 943L320 952.4L321 955.3L321 942L322 943L322 951.6L323 956.5L323 942.8L324 945.9L324 956.5L325 958.4L325 943.1L326 948.1L326 960.8L327 965.6L327 950.7L328 947.6L328 959.7L329 956.7L329 944.8L330 937.9L330 961.7L331 956L331 942.7L332 942.5L332 953.1L333 954.5L333 939.6L334 942.2L334 951.3L335 953.1L335 932.2L336 947.8L336 956.6L337 950.8L337 934.4L338 938.3L338 948.7L339 948.1L339 934.6L340 935.7L340 944L341 948.4L341 933.2L342 930.3L342 944.3L343 944.5L343 934.6L344 929.8L344 944.8L345 945.7L345 933L346 936.3L346 949.3L347 948L347 933.1L348 937.2L348 949.8L349 947.3L349 935.3L350 932L350 949.4L351 947.2L351 935L352 926.1L352 947.9L353 948.7L353 927.8L354 929.5L354 942.7L355 941.1L355 929.5L356 935.2L356 945.2L357 942.8L357 933.8L358 933.3L358 943.9L359 951.9L359 937.3L360 935.5L360 948.1L361 948.3L361 935.9L362 935.4L362 948.1L363 948.1L363 934.5L364 934L364 947.8L365 947.3L365 938.1L366 939L366 952.3L367 949.7L367 940.9L368 941.4L368 953.3L369 953.2L369 938.1L370 943.5L370 950.4L371 954.5L371 933.7L372 945.2L372 951.3L373 960L373 941.1L374 945.2L374 954.5L375 962.2L375 941.6L376 946.4L376 959.5L377 962.7L377 946.8L378 945.5L378 958.5L379 959.1L379 948.9L380 944.5L380 953.4L381 962.1L381 941.6L382 945.2L382 957.4L383 957.9L383 949L384 945.2L384 961.8L385 959.4L385 946.6L386 952.1L386 960.4L387 966.9L387 954.2L388 956.6L388 965L389 966.1L389 951.1L390 949.3L390 965.8L391 964.6L391 953.7L392 953.6L392 966.3L393 960L393 952.4L394 951.2L394 966.1L395 965.6L395 951.2L396 951.5L396 960.7L397 963.1L397 954.6L398 956.7L398 967.5L399 972.2L399 960.2L400 961L400 970.9L401 968.8L401 956.1L402 960.9L402 970.5L403 966.4L403 952.1L404 957.6L404 974L405 975.1L405 963L406 963.4L406 970.2L407 974.5L407 962.2L408 960.7L408 968.2L409 972.9L409 964.1L410 962.2L410 973.3L411 975.5L411 960.8L412 960.8L412 968.4L413 970.4L413 963.2L414 956.9L414 965.9L415 969.7L415 957.6L416 955.9L416 969.8L417 972.4L417 954.9L418 955.3L418 972L419 973.8L419 961.6L420 961L420 972L421 973.8L421 965.6L422 961.7L422 977.5L423 973.8L423 958.4L424 953L424 969L425 971.2L425 962.1L426 951.8L426 968.3L427 969.6L427 958.1L428 956L428 963.4L429 970.3L429 957.9L430 954.6L430 962.1L431 965.1L431 951.8L432 954.2L432 961.5L433 964.5L433 953.9L434 955.8L434 965.5L435 965L435 956.9L436 964.5L436 970.8L437 977.9L437 961.5L438 967.8L438 978.5L439 979.1L439 967.7L440 968.4L440 979.7L441 981.6L441 969.6L442 972.1L442 978.8L443 979.9L443 969.9L444 970.9L444 979.7L445 987.2L445 971.3L446 977.3L446 985.8L447 990.3L447 978.2L448 981.1L448 992.4L449 990.5L449 979.8L450 986.3L450 995.2L451 996L451 983.6L452 982.4L452 992.7L453 995.2L453 987.7L454 980.5L454 992.7L455 994.7L455 984.7L456 991.4L456 999.9L457 998.6L457 990.9L458 993.5L458 1004.3L459 1001.1L459 993L460 993.7L460 1005.7L461 1006.5L461 997.1L462 995.4L462 1003.8L463 1006.9L463 993.7L464 993.6L464 1006.6L465 1003.2L465 997.1L466 994.2L466 1006.1L467 1008L467 998.4L468 995.9L468 1006.1L469 1008.4L469 998.9L470 997.2L470 1008.4L471 1006.6L471 999.9L472 993.6L472 1007.8L473 1010.8L473 1005.2L474 999.6L474 1016.4L475 1007.4L475 1001.8L476 997L476 1006.8L477 1008.4L477 1002.7L478 999.4L478 1006.5L479 1006.1L479 1000.2L480 1000.2L480 1015L481 1011.6L481 1004.1L482 1003.9L482 1011.5L483 1011.5L483 997.4L484 999.1L484 1012.4L485 1009.6L485 1002L486 1003.6L486 1007.8L487 1012L487 1001.2L488 1002.9L488 1008.7L489 1013.3L489 1004.9L490 1003.7L490 1011.2L491 1014L491 1005.3L492 1005.1L492 1013.3L493 1017.9L493 1007L494 1007.6L494 1015.6L495 1014.7L495 1006.7L496 1007L496 1016.2L497 1016.5L497 1010L498 1007.8L498 1014.8L499 1015.7L499 1009L500 1006.8L500 1017.5L501 1018.2L501 1007.6L502 1010.3L502 1018.6L503 1017.6L503 1009.1L504 1010.2L504 1017.5L505 1023.6L505 1010.8L506 1012.3L506 1019.1L507 1022.2L507 1015.1L508 1014.9L508 1021.8L509 1023.5L509 1014.7L510 1011.7L510 1023.3L511 1023.2L511 1011.5L512 1011.4L512 1019L513 1018.4L513 1007.7L514 1008.4L514 1014.1L515 1015.9L515 1005.9L516 1010.5L516 1016L517 1019.5L517 1012.7L518 1011.7L518 1019L519 1018.7L519 1012.4L520 1011.3L520 1020.8L521 1017.3L521 1012L522 1008.5L522 1020.4L523 1021.3L523 1012L524 1009.3L524 1018.2L525 1017.6L525 1010.1L526 1008.8L526 1019.8L527 1020.4L527 1008.8L528 1005.4L528 1015.2L529 1012.6L529 1005.4L530 1002L530 1012.2L531 1013.2L531 1005L532 1011.5L532 1017.4L533 1019.7L533 1011.6L534 1010.6L534 1021.9L535 1022.7L535 1013.3L536 1011.7L536 1021.6L537 1019.2L537 1010.1L538 1012.9L538 1022.6L539 1022L539 1015.2L540 1014.2L540 1023.5L541 1022.9L541 1014.3L542 1014L542 1021.9L543 1023.6L543 1010.2L544 1009L544 1021.6L545 1018.6L545 1009.6L546 1010.8L546 1018.7L547 1023.9L547 1013.9L548 1013.8L548 1025.4L549 1023.7L549 1015.7L550 1020.2L550 1026.7L551 1029.6L551 1017.4L552 1017L552 1024.4L553 1021.6L553 1015.4L554 1015.5L554 1025.3L555 1026L555 1015.7L556 1020L556 1029.1L557 1028.3L557 1022.7L558 1020.7L558 1029.2L559 1031.2L559 1023.6L560 1019.8L560 1026.4L561 1029.3L561 1024L562 1023.8L562 1028.4L563 1032.5L563 1023.5L564 1022.3L564 1033.4L565 1032.6L565 1020.7L566 1025.1L566 1031.4L567 1032.7L567 1024.6L568 1023.4L568 1032.2L569 1028.8L569 1022.9L570 1022.8L570 1034.6L571 1030.2L571 1023.8L572 1024.2L572 1033.6L573 1034.5L573 1022.7L574 1027.6L574 1033.1L575 1035.4L575 1024.7L576 1025.3L576 1034.1L577 1034.7L577 1028.9L578 1027.5L578 1035.6L579 1035.8L579 1029.2L580 1027.6L580 1035.2L581 1034L581 1028.1L582 1024.3L582 1034.6L583 1032.8L583 1025.3L584 1028L584 1035L585 1034.3L585 1028.9L586 1027.3L586 1035.7L587 1037.7L587 1029.5L588 1031L588 1038.9L589 1037.2L589 1027.7L590 1030.9L590 1037.4L591 1036.6L591 1029L592 1029.3L592 1036.6L593 1036.1L593 1029.4L594 1030.9L594 1037.8L595 1038.3L595 1031.7L596 1029.5L596 1038.4L597 1037.6L597 1031.9L598 1032.1L598 1037.1L599 1038.8L599 1027.3L600 1030.5L600 1041.4L601 1039.9L601 1031.5L602 1031.7L602 1038.8L603 1039L603 1031.2L604 1031.5L604 1041.6L605 1041.2L605 1034.1L606 1034.1L606 1042.2L607 1039.2L607 1030.7L608 1030.9L608 1037.4L609 1038.6L609 1032.6L610 1031.7L610 1037.6L611 1041.5L611 1029.3L612 1032.6L612 1041.8L613 1042.1L613 1030.3L614 1037.3L614 1046.1L615 1040.8L615 1036.5L616 1032.9L616 1043.8L617 1044.6L617 1035.6L618 1029.8L618 1041.8L619 1040.8L619 1030.9L620 1031.7L620 1042.1L621 1044.3L621 1030.8L622 1033.8L622 1040.4L623 1042.8L623 1031L624 1032L624 1039.1L625 1044.9L625 1030L626 1034.3L626 1041.8L627 1042.1L627 1033.9L628 1037.1L628 1042.8L629 1045.7L629 1035.8L630 1034.5L630 1045.8L631 1043.7L631 1036.9L632 1036.5L632 1041.5L633 1042L633 1035.2L634 1034.4L634 1041.9L635 1040.2L635 1033.6L636 1033L636 1040L637 1040.2L637 1027.5L638 1034.6L638 1041L639 1045.8L639 1035.6L640 1032.8L640 1040.9L641 1042.5L641 1036L642 1034.3L642 1044.5L643 1044.4L643 1037L644 1038.3L644 1046.1L645 1043.8L645 1037.5L646 1036.1L646 1045.2L647 1040.4L647 1032.1L648 1030.7L648 1043.6L649 1039L649 1032.7L650 1031.3L650 1037.8L651 1040.8L651 1033.6L652 1034.4L652 1042.2L653 1041.1L653 1035.3L654 1037.7L654 1042.7L655 1044.2L655 1033.1L656 1030.3L656 1041.9L657 1037.9L657 1031.1L658 1033.3L658 1042.4L659 1044L659 1035.8L660 1034.9L660 1044.6L661 1046.2L661 1040.4L662 1037.4L662 1047.2L663 1046.6L663 1040.4L664 1041.4L664 1047L665 1045.5L665 1040.4L666 1040.2L666 1049.1L667 1046.2L667 1039.2L668 1034.9L668 1044.1L669 1043.8L669 1037.3L670 1035.8L670 1042L671 1046.3L671 1035.9L672 1038.9L672 1044.4L673 1047.9L673 1040.5L674 1040.5L674 1045.7L675 1048.8L675 1036.4L676 1037.2L676 1043L677 1045.1L677 1039.1L678 1034.6L678 1043L679 1040.5L679 1036L680 1030.2L680 1042.9L681 1042.7L681 1033.8L682 1033.4L682 1040.5L683 1039.2L683 1032.8L684 1033.6L684 1042.1L685 1042.5L685 1036.7L686 1035.1L686 1043.7L687 1043.3L687 1032.9L688 1037.9L688 1042.4L689 1045.2L689 1034.8L690 1038.2L690 1043.8L691 1044L691 1039.6L692 1036.5L692 1045.9L693 1044.7L693 1038.3L694 1038.3L694 1046.4L695 1048.8L695 1039.8L696 1036.6L696 1045L697 1047.2L697 1035.7L698 1035.1L698 1044.3L699 1045.6L699 1039.6L700 1042L700 1049.6L701 1044.2L701 1040.2L702 1038.3L702 1045.9L703 1045.5L703 1037.6L704 1038.9L704 1042.4L705 1042.7L705 1035.2L706 1037.2L706 1043.7L707 1043.7L707 1038.4L708 1038.8L708 1045.2L709 1043.8L709 1039.7L710 1036.6L710 1047.6L711 1045.2L711 1036.9L712 1039.4L712 1046.6L713 1049.1L713 1037.7L714 1040.1L714 1044.7L715 1045.1L715 1040.2L716 1040.4L716 1047.2L717 1048.8L717 1041.6L718 1042.6L718 1047.9L719 1048L719 1041.8L720 1041.6L720 1048L721 1051.3L721 1041.2L722 1044.6L722 1052.2L723 1052.7L723 1044.3L724 1043.4L724 1049.8L725 1051.4L725 1043.6L726 1046.2L726 1051.2L727 1050.6L727 1045.8L728 1045.7L728 1053.7L729 1051.8L729 1047.5L730 1045.3L730 1051.6L731 1052.5L731 1042.1L732 1041.8L732 1051.1L733 1049.7L733 1043.4L734 1044.5L734 1050.5L735 1052.6L735 1045.7L736 1047.4L736 1054L737 1055.5L737 1048.3L738 1048.1L738 1057.1L739 1056.3L739 1048.5L740 1047.4L740 1055.6L741 1050.2L741 1045.3L742 1045.2L742 1051.2L743 1048.7L743 1042.2L744 1042.7L744 1050.6L745 1050.7L745 1042.8L746 1040.4L746 1048L747 1049.3L747 1042.5L748 1044.3L748 1050.6L749 1050.6L749 1044.9L750 1047.2L750 1050.5L751 1053.9L751 1044.8L752 1046.5L752 1053.2L753 1053.2L753 1046.9L754 1047L754 1055.3L755 1052.2L755 1044.4L756 1045.2L756 1051.6L757 1052.8L757 1044.2L758 1041.9L758 1049.9L759 1050.5L759 1043.1L760 1042L760 1050.8L761 1051.8L761 1042.9L762 1045.9L762 1052.1L763 1047.4L763 1042.8L764 1042.3L764 1048.9L765 1047L765 1041.9L766 1045.4L766 1052.6L767 1052.4L767 1046.8L768 1043.7L768 1052.6L769 1051L769 1043.6L770 1044.4L770 1050.8L771 1051L771 1041.8L772 1041.6L772 1049.9L773 1048L773 1043.4L774 1044.4L774 1049L775 1047.9L775 1041.1L776 1041.8L776 1049.2L777 1048.8L777 1042L778 1039.5L778 1048.9L779 1048.4L779 1042.8L780 1042.3L780 1049.4L781 1047.1L781 1044.7L782 1042.4L782 1047.9L783 1049L783 1041.8L784 1040.2L784 1045.8L785 1043.8L785 1040.5L786 1036.6L786 1047.4L787 1045.9L787 1037.6L788 1041L788 1046.4L789 1048.3L789 1041.6L790 1042L790 1052L791 1051.4L791 1044.6L792 1045.8L792 1055L793 1052.3L793 1046L794 1047.2L794 1051.4L795 1052.3L795 1047L796 1044.9L796 1053.1L797 1051.7L797 1047.7L798 1042.6L798 1053.3L799 1052.5L799 1044.8L800 1043.9L800 1052.5L801 1052.3L801 1044L802 1045.2L802 1055.5L803 1051.3L803 1047.6L804 1043.1L804 1055.5L805 1052.1L805 1044.5L806 1040.5L806 1051.8L807 1051L807 1043.6L808 1040.2L808 1050.8L809 1047.4L809 1043.4L810 1041.6L810 1046.3L811 1048L811 1041.3L812 1041.9L812 1046.9L813 1046.6L813 1041.3L814 1043.9L814 1048.6L815 1050.1L815 1043.3L816 1045.4L816 1053.6L817 1052.6L817 1044.1L818 1043.9L818 1052.1L819 1048.1L819 1042.7L820 1043.6L820 1050.2L821 1051.8L821 1041.6L822 1041.5L822 1047.8L823 1047.1L823 1040.8L824 1042L824 1046.9L825 1049.7L825 1043.5L826 1041L826 1046.5L827 1051.4L827 1043.7L828 1041.2L828 1047.4L829 1047.5L829 1040.3L830 1041.6L830 1052.2L831 1050.3L831 1042.9L832 1042.8L832 1048.1L833 1049.8L833 1044.5L834 1043.7L834 1051.3L835 1050.3L835 1044.1L836 1040.6L836 1049.7L837 1049.5L837 1041.9L838 1043.8L838 1050.2L839 1050.8L839 1043.9L840 1045.4L840 1049.9L841 1048.2L841 1044.8L842 1040.2L842 1050.1L843 1047.2L843 1041.5L844 1039.9L844 1048.7L845 1047.5L845 1036.9L846 1041.6L846 1051.5L847 1047.9L847 1040.5L848 1041.6L848 1050.6L849 1048.5L849 1043.4L850 1042.6L850 1047.1L851 1049.1L851 1040.6L852 1040.8L852 1049.4L853 1047L853 1040L854 1040.3L854 1048.7L855 1047.5L855 1036.5L856 1044L856 1049.4L857 1046.3L857 1039.2L858 1042L858 1046.4L859 1045.3L859 1041.4L860 1043.3L860 1048.2L861 1049.6L861 1042.6L862 1042.4L862 1048.6L863 1052.6L863 1043.9L864 1047.3L864 1052.7L865 1051.3L865 1044.7L866 1047.8L866 1056.7L867 1054.5L867 1044.7L868 1045.3L868 1049.7L869 1054L869 1042.5L870 1045L870 1052.1L871 1054.3L871 1045.9L872 1046.3L872 1050.4L873 1052L873 1043.8L874 1045L874 1049.8L875 1050.2L875 1044.5L876 1042.2L876 1049.7L877 1048.9L877 1043.8L878 1041L878 1047.4L879 1048.7L879 1044L880 1039.3L880 1049.8L881 1049.2L881 1042.3L882 1044.7L882 1051.7L883 1047.7L883 1042.5L884 1042L884 1049L885 1051.1L885 1044.4L886 1043.8L886 1049.5L887 1049.4L887 1042.4L888 1042.8L888 1048.2L889 1050.8L889 1041.2L890 1043.2L890 1050.9L891 1049.3L891 1042L892 1041.5L892 1050L893 1048.8L893 1042.3L894 1042.8L894 1050.6L895 1049.8L895 1041.1L896 1042.4L896 1051L897 1049.9L897 1041.2L898 1041.2L898 1046.3L899 1046.8L899 1038.4L900 1034.5L900 1044L901 1045L901 1037.4L902 1037.7L902 1044.3L903 1045.9L903 1038.4L904 1040.4L904 1046.4L905 1047.2L905 1040.7L906 1041.7L906 1046.2L907 1050.6L907 1041.2L908 1039.5L908 1047.3L909 1047.4L909 1036.7L910 1041.8L910 1046.1L911 1046.1L911 1041.2L912 1040L912 1048.1L913 1045.8L913 1040L914 1041.6L914 1047.6L915 1046.4L915 1041.8L916 1040.1L916 1047.7L917 1045.5L917 1040.5L918 1039.7L918 1045.7L919 1044.3L919 1036.8L920 1039.2L920 1046.4L921 1045.9L921 1041.5L922 1041.4L922 1046.2L923 1048.4L923 1039.4L924 1040L924 1047.9L925 1047.4L925 1040.3L926 1040.7L926 1045.8L927 1048.3L927 1040.2L928 1039L928 1047.3L929 1046.9L929 1040.2L930 1038.3L930 1048.4L931 1045.6L931 1036.7L932 1038.8L932 1046.1L933 1047.8L933 1039.3L934 1039.9L934 1045.2L935 1047.7L935 1037.6L936 1040.5L936 1045.5L937 1046.4L937 1040.4L938 1040.8L938 1046.8L939 1045.7L939 1041.1L940 1038.6L940 1048.4L941 1044.2L941 1039.7L942 1039.4L942 1048.1L943 1049.3L943 1042.1L944 1041.2L944 1046L945 1049.1L945 1039.8L946 1038.2L946 1046.9L947 1044L947 1040.4L948 1035.3L948 1044.3L949 1046.2L949 1038.4L950 1037.3L950 1044.9L951 1047.6L951 1040.1L952 1039.7L952 1046.3L953 1048.5L953 1041.9L954 1039.2L954 1047.9L955 1047.3L955 1039.4L956 1040.8L956 1049.9L957 1049.3L957 1043.4L958 1044.7L958 1052.1L959 1051L959 1044.6L960 1044.9L960 1052.5L961 1054L961 1047.1L962 1045L962 1050.7L963 1052.6L963 1044.8L964 1044.7L964 1053.8L965 1051.3L965 1046.9L966 1044.1L966 1052.6L967 1051.8L967 1045.9L968 1045.4L968 1055.8L969 1053.3L969 1043.5L970 1045.2L970 1052.7L971 1054.7L971 1046.6L972 1045.8L972 1052.2L973 1053.1L973 1044.1L974 1045.1L974 1050.3L975 1052.9L975 1046.4L976 1046.7L976 1053.7L977 1055L977 1046.1L978 1049L978 1054.9L979 1056.6L979 1049.7L980 1046.4L980 1052.4L981 1051.1L981 1044.5L982 1044.5L982 1052.4L983 1052.1L983 1044.7L984 1045.6L984 1050.4L985 1051L985 1043.8L986 1043.4L986 1049.5L987 1050.7L987 1041.5L988 1044.1L988 1048.7L989 1049.7L989 1042.2L990 1044.5L990 1048.9L991 1051.1L991 1046.3L992 1044.7L992 1052.9L993 1054.2L993 1044.3L994 1045L994 1051.1L995 1054.2L995 1045.4L996 1046.6L996 1051.7L997 1051.4L997 1042.8L998 1043.8L998 1048.8L999 1047.1L999 1041.9L1000 1041.8L1000 1047.8L1001 1051.5L1001 1040.6L1002 1042.6L1002 1053.5L1003 1049.9L1003 1044.6L1004 1043.1L1004 1051L1005 1052.9L1005 1044.5L1006 1042.5L1006 1049.6L1007 1050.2L1007 1043.7L1008 1044L1008 1051.6L1009 1049L1009 1043.8L1010 1045L1010 1051.4L1011 1049.6L1011 1044.4L1012 1042.6L1012 1051.9L1013 1051L1013 1042L1014 1044.4L1014 1050L1015 1050.9L1015 1045.1L1016 1041.7L1016 1049.1L1017 1051.6L1017 1042.1L1018 1043.4L1018 1047.7L1019 1050.7L1019 1042.5L1020 1044L1020 1048.5L1021 1051.2L1021 1040.3L1022 1041.7L1022 1052.5L1023 1049.2L1023 1042L1024 1039.5L1024 1051.7L1025 1048.6L1025 1038.3L1026 1044.6L1026 1048.1L1027 1048.8L1027 1043.3L1028 1045L1028 1053.7L1029 1052.7L1029 1045.2L1030 1048.1L1030 1050.5L1031 1052.2L1031 1043.2L1032 1044.4L1032 1050.2L1033 1048.9L1033 1042.7L1034 1040.9L1034 1048.6L1035 1048.3L1035 1039.9L1036 1039.5L1036 1047.4L1037 1052.1L1037 1043.2L1038 1045.8L1038 1051.3L1039 1051.8L1039 1043.6L1040 1044.3L1040 1050.6L1041 1050.2L1041 1041.9L1042 1041.5L1042 1047L1043 1050L1043 1039.9L1044 1039.5L1044 1045.7L1045 1048.6L1045 1040.6L1046 1041.4L1046 1047.9L1047 1048.6L1047 1043.7L1048 1040.7L1048 1049.5L1049 1049.8L1049 1041.4L1050 1041.6L1050 1049.4L1051 1049.1L1051 1043.6L1052 1042.8L1052 1049.3L1053 1049.9L1053 1042.9L1054 1041.9L1054 1049L1055 1051.9L1055 1045.9L1056 1044.7L1056 1054.1L1057 1054.4L1057 1047.2L1058 1047.1L1058 1053L1059 1054.5L1059 1046.1L1060 1043.3L1060 1052.4L1061 1052.1L1061 1045.1L1062 1046.1L1062 1052.5L1063 1052.7L1063 1045.2L1064 1047.7L1064 1056.3L1065 1052.4L1065 1046.8L1066 1043.9L1066 1051.5L1067 1052.7L1067 1045.8L1068 1043L1068 1054.1L1069 1055.8L1069 1047.6L1070 1050.5L1070 1056.1L1071 1056.2L1071 1048.9L1072 1048.2L1072 1057.3L1073 1053.8L1073 1046.6L1074 1045.5L1074 1052.8L1075 1048L1075 1040.8L1076 1043.5L1076 1051L1077 1048.7L1077 1040.6L1078 1042.1L1078 1050.2L1079 1050.2L1079 1046.1L1080 1044.3L1080 1051.6L1081 1053L1081 1044.5L1082 1044.6L1082 1051.2L1083 1049.9L1083 1043.6L1084 1042.8L1084 1051.9L1085 1055.2L1085 1046.7L1086 1047.1L1086 1051.9L1087 1052.3L1087 1044.3L1088 1047.9L1088 1054.4L1089 1054.9L1089 1047.8L1090 1050L1090 1053.7L1091 1053.5L1091 1047.8L1092 1046.9L1092 1054L1093 1053.6L1093 1048.1L1094 1048.5L1094 1053.4L1095 1053.7L1095 1049.3L1096 1047.8L1096 1053L1097 1049.7L1097 1043.4L1098 1045.5L1098 1050.4L1099 1049.5L1099 1042.4L1100 1044.3L1100 1050.2L1101 1047.6L1101 1040.5L1102 1041.2L1102 1049.2L1103 1048L1103 1041.5L1104 1042.2L1104 1048.7L1105 1052.8L1105 1045.3L1106 1046.8L1106 1053.8L1107 1053.2L1107 1047.9L1108 1044.4L1108 1051.9L1109 1052L1109 1046.5L1110 1044.5L1110 1053.2L1111 1049.7L1111 1044.8L1112 1044L1112 1048.7L1113 1048.7L1113 1042.3L1114 1042.8L1114 1051.2L1115 1051.7L1115 1043.5L1116 1045.1L1116 1051.4L1117 1049.5L1117 1045.5L1118 1046.9L1118 1051.1L1119 1052.2L1119 1047.3L1120 1044.7L1120 1052L1121 1052.1L1121 1045.4L1122 1042.8L1122 1052.6L1123 1052.8L1123 1045.2L1124 1046.4L1124 1052.3L1125 1053.6L1125 1047.3L1126 1044.6L1126 1052.8L1127 1051L1127 1048.1L1128 1044.2L1128 1051.6L1129 1049.5L1129 1043.8L1130 1042.5L1130 1049.4L1131 1048.8L1131 1041.6L1132 1042.5L1132 1051.5L1133 1048.9L1133 1041.2L1134 1042.6L1134 1049.4L1135 1051.4L1135 1043.1L1136 1043.6L1136 1049.6L1137 1049.3L1137 1043.6L1138 1043.5L1138 1051.4L1139 1051L1139 1042.8L1140 1047.2L1140 1051.9L1141 1051.4L1141 1045L1142 1044.5L1142 1049.5L1143 1053L1143 1045.3L1144 1043.8L1144 1048.3L1145 1049.4L1145 1045.1L1146 1042.8L1146 1048L1147 1050.4L1147 1042.5L1148 1044.5L1148 1048.2L1149 1048.2L1149 1040.9L1150 1040.9L1150 1049.3L1151 1049.5L1151 1043.5L1152 1040.5L1152 1048.2L1153 1046.6L1153 1040L1154 1041.6L1154 1045.8L1155 1050.5L1155 1041L1156 1043.3L1156 1050.7L1157 1052.6L1157 1044.9L1158 1044.6L1158 1050.6L1159 1051.6L1159 1043.7L1160 1043.8L1160 1049.6L1161 1048.1L1161 1042.7L1162 1041L1162 1047.5L1163 1048.6L1163 1042.2L1164 1041.5L1164 1049.4L1165 1048.6L1165 1044.4L1166 1041.6L1166 1049.9L1167 1052.7L1167 1044.8L1168 1044.2L1168 1052.3L1169 1050.6L1169 1043.2L1170 1042.9L1170 1048.7L1171 1050L1171 1041.2L1172 1041.3L1172 1050.1L1173 1048.9L1173 1041.5L1174 1042L1174 1047.5L1175 1047.3L1175 1041.7L1176 1039.7L1176 1050.1L1177 1047.6L1177 1040.7L1178 1039.8L1178 1049.3L1179 1047.1L1179 1041.4L1180 1042.5L1180 1049.7L1181 1049L1181 1040.8L1182 1042.6L1182 1051.3L1183 1051.1L1183 1043.5L1184 1042.2L1184 1047.8L1185 1048.8L1185 1041.6L1186 1043.5L1186 1047.5L1187 1047.7L1187 1044.3L1188 1040L1188 1051.6L1189 1048.8L1189 1043.4L1190 1040.1L1190 1049.4L1191 1048.2L1191 1042.9L1192 1041.6L1192 1050.1L1193 1046.5L1193 1041.1L1194 1040.7L1194 1049.6L1195 1048.1L1195 1040.8L1196 1043L1196 1049L1197 1049.3L1197 1039.3L1198 1042.9L1198 1048.6L1199 1048.6L1199 1040.6L1200 1041.4L1200 1051.1L1201 1049.9L1201 1043.9L1202 1043.3L1202 1047.7L1203 1049.2L1203 1042.8L1204 1043.7L1204 1047.6L1205 1049.5L1205 1043.2L1206 1042.9L1206 1050.1L1207 1051.9L1207 1045.2L1208 1045.2L1208 1051.2L1209 1049.9L1209 1041.1L1210 1042.1L1210 1048.7L1211 1049.9L1211 1040.6L1212 1044.9L1212 1049.2L1213 1050.7L1213 1044.2L1214 1042.9L1214 1052.2L1215 1048.4L1215 1044.1L1216 1042.2L1216 1047.2L1217 1049L1217 1040.9L1218 1043.3L1218 1048L1219 1051.2L1219 1043.6L1220 1044.4L1220 1049.7L1221 1049.9L1221 1044.9L1222 1046.7L1222 1051.5L1223 1050.7L1223 1045.2L1224 1046L1224 1054L1225 1051.9L1225 1046.1L1226 1045.3L1226 1050.6L1227 1051.9L1227 1042.7L1228 1042.5L1228 1050.9L1229 1051.7L1229 1043.4L1230 1043.3L1230 1049.1L1231 1050.1L1231 1044.3L1232 1042L1232 1051.6L1233 1050.1L1233 1041.9L1234 1046.2L1234 1051.9L1235 1055.1L1235 1048.6L1236 1046.7L1236 1054.9L1237 1052.7L1237 1047.8L1238 1047.3L1238 1054.4L1239 1053.2L1239 1047.2L1240 1046.2L1240 1055.2L1241 1054.3L1241 1046.8L1242 1044.6L1242 1053.7L1243 1050.6L1243 1044.6L1244 1045.4L1244 1050.3L1245 1050.1L1245 1043.9L1246 1043.8L1246 1052.8L1247 1055.8L1247 1045.5L1248 1045.2L1248 1050.3L1249 1054L1249 1047.8L1250 1047.3L1250 1051.4L1251 1054.7L1251 1047L1252 1046.5L1252 1053.5L1253 1053.6L1253 1046.6L1254 1046.7L1254 1050.9L1255 1053.9L1255 1045.7L1256 1046.6L1256 1052.9L1257 1055.3L1257 1049L1258 1048.5L1258 1054.2L1259 1052.7L1259 1047.4L1260 1050.4L1260 1054.8L1261 1053.1L1261 1046.9L1262 1047.2L1262 1053.6L1263 1053.7L1263 1046L1264 1042.6L1264 1050.4L1265 1051.9L1265 1045L1266 1046.5L1266 1051.4L1267 1053.6L1267 1047.6L1268 1047.3L1268 1053.6L1269 1053.1L1269 1046.3L1270 1047.2L1270 1051.5L1271 1052.3L1271 1046.1L1272 1048.7L1272 1054L1273 1052.9L1273 1047.6L1274 1048.1L1274 1051.8L1275 1053.4L1275 1046L1276 1047.5L1276 1054L1277 1052.5L1277 1046.9L1278 1047.2L1278 1051.8L1279 1051.2L1279 1044.3L1280 1045.4L1280 1052.5L1281 1051.8L1281 1046.8L1282 1046.9L1282 1054L1283 1051.8L1283 1047.1L1284 1043.6L1284 1050.3L1285 1049.9L1285 1045.5L1286 1044.2L1286 1050.6L1287 1052.5L1287 1046.4L1288 1046.3L1288 1051.6L1289 1050.7L1289 1044.9L1290 1046.4L1290 1051.8L1291 1053.1L1291 1045.9L1292 1046.1L1292 1053.2L1293 1054.7L1293 1045.2L1294 1047.8L1294 1053.5L1295 1052.9L1295 1044.7L1296 1047.3L1296 1053L1297 1052.3L1297 1046.6L1298 1045.6L1298 1052L1299 1051.8L1299 1045.7L1300 1046.5L1300 1052.9L1301 1051.4L1301 1044.7L1302 1046.2L1302 1051.3L1303 1051.5L1303 1044.4L1304 1045.1L1304 1051.1L1305 1051.6L1305 1042.7L1306 1045.6L1306 1048.1L1307 1051.6L1307 1046.5L1308 1044.5L1308 1049.8L1309 1049.3L1309 1044.8L1310 1044.1L1310 1051.4L1311 1049.6L1311 1043.8L1312 1043.9L1312 1051.2L1313 1050.7L1313 1045.2L1314 1046L1314 1049.5L1315 1048.8L1315 1044.8L1316 1045.2L1316 1049.4L1317 1050.7L1317 1045.9L1318 1041.7L1318 1049.6L1319 1053.4L1319 1044.2L1320 1042L1320 1049.7L1321 1047.9L1321 1043.3L1322 1045.1L1322 1048.5L1323 1049.1L1323 1042.4L1324 1045.4L1324 1050.6L1325 1050.4L1325 1043.7L1326 1046.6L1326 1050.8L1327 1051.7L1327 1046.2L1328 1045L1328 1050.5L1329 1049L1329 1044.7L1330 1045.4L1330 1050.4L1331 1049.9L1331 1045.2L1332 1045.4L1332 1050.1L1333 1049.8L1333 1044.4L1334 1044.9L1334 1051.2L1335 1051.3L1335 1046.5L1336 1047.8L1336 1052.8L1337 1055.8L1337 1048L1338 1048L1338 1055.6L1339 1054.3L1339 1048.6L1340 1048.4L1340 1053.2L1341 1051.6L1341 1046.9L1342 1045.2L1342 1051.4L1343 1052.6L1343 1045.8L1344 1045.9L1344 1050.8L1345 1048.9L1345 1042.7L1346 1043.5L1346 1049.5L1347 1051.4L1347 1043.5L1348 1043.6L1348 1051.3L1349 1050L1349 1043.4L1350 1045.5L1350 1052.1L1351 1052.1L1351 1042.5L1352 1045L1352 1049.5L1353 1048.9L1353 1045.8L1354 1043.5L1354 1049L1355 1049.6L1355 1042.9L1356 1041.7L1356 1050.3L1357 1048.4L1357 1044.6L1358 1045.6L1358 1048.7L1359 1051.3L1359 1041.9L1360 1044.3L1360 1051.1L1361 1050.1L1361 1045.2L1362 1044.8L1362 1052L1363 1051.6L1363 1045.7L1364 1047L1364 1051.8L1365 1049.3L1365 1044.3L1366 1045.6L1366 1051.9L1367 1048.5L1367 1041.2L1368 1041.8L1368 1048.7L1369 1047.8L1369 1041.7L1370 1043.7L1370 1047.7L1371 1046.6L1371 1039.3L1372 1041.9L1372 1049.5L1373 1052.5L1373 1044.4L1374 1047.6L1374 1051.8L1375 1052.3L1375 1047.2L1376 1047.6L1376 1052.1L1377 1052.1L1377 1046L1378 1045.7L1378 1052.1L1379 1051.1L1379 1045.3L1380 1045.4L1380 1052.2L1381 1051.2L1381 1046.7L1382 1047.3L1382 1055.7L1383 1055.3L1383 1049.8L1384 1049.3L1384 1056.4L1385 1053.9L1385 1049.9L1386 1046.5L1386 1052.9L1387 1052.4L1387 1044.6L1388 1045.8L1388 1050.1L1389 1052.8L1389 1046.7L1390 1047.4L1390 1052L1391 1052.2L1391 1045.5L1392 1047.5L1392 1053.7L1393 1052.1L1393 1044.4L1394 1046.9L1394 1050.8L1395 1051.3L1395 1046.4L1396 1045.9L1396 1050.5L1397 1050.7L1397 1046.9L1398 1045.8L1398 1052.5L1399 1051.7L1399 1046.1L1400 1046.2L1400 1051.2L1401 1051.5L1401 1047.1L1402 1047.2L1402 1053.5L1403 1053.2L1403 1048.4L1404 1045.9L1404 1052.4L1405 1052.1L1405 1046L1406 1046.9L1406 1053L1407 1050L1407 1046.5L1408 1044.9L1408 1052.1L1409 1050.5L1409 1044.8L1410 1046.6L1410 1052.4L1411 1052.8L1411 1046.4L1412 1046.8L1412 1054.3L1413 1053L1413 1047.2L1414 1046.5L1414 1053.3L1415 1052.7L1415 1046.3L1416 1048.2L1416 1051.7L1417 1053.4L1417 1045.9L1418 1045.8L1418 1052.6L1419 1052.3L1419 1046.6L1420 1047.8L1420 1050.9L1421 1052.5L1421 1045.6L1422 1046.4L1422 1051.9L1423 1051.3L1423 1047.6L1424 1046.7L1424 1051.8L1425 1052.3L1425 1044L1426 1043.8L1426 1053.5L1427 1052.3L1427 1049.8L1428 1050L1428 1054.1L1429 1055.2L1429 1047.8L1430 1047.9L1430 1053.4L1431 1054.2L1431 1047.4L1432 1049.4L1432 1055.7L1433 1054.2L1433 1048.6L1434 1047.5L1434 1052.5L1435 1055.7L1435 1049.1L1436 1047.9L1436 1054.7L1437 1053.5L1437 1047.7L1438 1045.8L1438 1052.7L1439 1053.1L1439 1045.7L1440 1044.6L1440 1050.4L1441 1050.7L1441 1045.9L1442 1046L1442 1053.4L1443 1051L1443 1046.8L1444 1045.8L1444 1053.8L1445 1050.9L1445 1045.5L1446 1048.8L1446 1057.3L1447 1056.8L1447 1050.9L1448 1050.8L1448 1054.5L1449 1057L1449 1051.3L1450 1048.8L1450 1056.8L1451 1054L1451 1047.5L1452 1047.8L1452 1053.8L1453 1052.2L1453 1047.7L1454 1047.2L1454 1052.7L1455 1052.6L1455 1047.6L1456 1045.6L1456 1051.2L1457 1051.7L1457 1045.5L1458 1045.1L1458 1051.5L1459 1052.7L1459 1046.6L1460 1047.5L1460 1050.9L1461 1050.3L1461 1046.3L1462 1043.8L1462 1052.7L1463 1052.6L1463 1046.4L1464 1043.4L1464 1051.2L1465 1051.5L1465 1046.3L1466 1045.8L1466 1051.4L1467 1051.5L1467 1046.5L1468 1047.1L1468 1052.9L1469 1053.4L1469 1048.8L1470 1048.6L1470 1059L1471 1054.4L1471 1049.1L1472 1048.9L1472 1053.3L1473 1057.8L1473 1050.2L1474 1046.5L1474 1053.8L1475 1056.7L1475 1049.6L1476 1049.3L1476 1055.7L1477 1054.7L1477 1048.1L1478 1048.1L1478 1053.9L1479 1052.8L1479 1049.4L1480 1047.7L1480 1052.5L1481 1054.1L1481 1048.2L1482 1050.3L1482 1057L1483 1058.1L1483 1050.9L1484 1049.9L1484 1055.6L1485 1055.1L1485 1048.4L1486 1052.9L1486 1059.5L1487 1057.6L1487 1051.4L1488 1050.3L1488 1055.3L1489 1054.5L1489 1049.3L1490 1048.6L1490 1055L1491 1056.2L1491 1046.2L1492 1049.6L1492 1054.2L1493 1055L1493 1047L1494 1048.6L1494 1054.6L1495 1052.6L1495 1045.7L1496 1046.7L1496 1052.9L1497 1052.8L1497 1047.1L1498 1049.4L1498 1055.1L1499 1054.3L1499 1047.1L1500 1049.2L1500 1053.5L1501 1051.8L1501 1046.2L1502 1047.4L1502 1053.6L1503 1054.8L1503 1048.2L1504 1044.9L1504 1053.8L1505 1055.6L1505 1049.4L1506 1051.5L1506 1056.5L1507 1056.8L1507 1049.7L1508 1048.7L1508 1057.4L1509 1053.5L1509 1048.8L1510 1049.7L1510 1054.6L1511 1053.7L1511 1048.3L1512 1048.4L1512 1055L1513 1054.8L1513 1047.6L1514 1049L1514 1054.9L1515 1054.7L1515 1049.3L1516 1049.3L1516 1054.5L1517 1056.5L1517 1048L1518 1050.8L1518 1055.6L1519 1057.7L1519 1049.3L1520 1051.2L1520 1055.1L1521 1054.7L1521 1048.1L1522 1048.3L1522 1054.3L1523 1056.4L1523 1049.1L1524 1048.2L1524 1054.3L1525 1054.4L1525 1049.6L1526 1047.5L1526 1053.6L1527 1054.6L1527 1047.9L1528 1045.5L1528 1053.5L1529 1053.8L1529 1046.8L1530 1046.5L1530 1051.7L1531 1051.5L1531 1044.4L1532 1046.7L1532 1054.2L1533 1051.6L1533 1047.4L1534 1047.7L1534 1053.4L1535 1051.5L1535 1046.1L1536 1045.9L1536 1052.8L1537 1054.6L1537 1047.9L1538 1051.2L1538 1056.8L1539 1056.9L1539 1048.9L1540 1051.2L1540 1057.9L1541 1057.3L1541 1051.5L1542 1049.6L1542 1057.1L1543 1054.7L1543 1047.8L1544 1048L1544 1052.5L1545 1054.9L1545 1047.9"/>
</g>
<g font-family="'Liberation Serif', 'Times New Roman', Times, serif" font-weight="bold" fill="#000">
<text x="87.5" y="1152" font-size="55.8" text-anchor="start" textLength="56" lengthAdjust="spacingAndGlyphs">10</text>
<text x="292.1" y="1152" font-size="55.8" text-anchor="start" textLength="56" lengthAdjust="spacingAndGlyphs">20</text>
<text x="496.6" y="1152" font-size="55.8" text-anchor="start" textLength="56" lengthAdjust="spacingAndGlyphs">30</text>
<text x="701.2" y="1152" font-size="55.8" text-anchor="start" textLength="56" lengthAdjust="spacingAndGlyphs">40</text>
<text x="905.8" y="1152" font-size="55.8" text-anchor="start" textLength="56" lengthAdjust="spacingAndGlyphs">50</text>
<text x="1110.4" y="1152" font-size="55.8" text-anchor="start" textLength="56" lengthAdjust="spacingAndGlyphs">60</text>
<text x="1314.9" y="1152" font-size="55.8" text-anchor="start" textLength="56" lengthAdjust="spacingAndGlyphs">70</text>
<text x="1519.5" y="1152" font-size="55.8" text-anchor="start" textLength="56" lengthAdjust="spacingAndGlyphs">80</text>
<text x="573" y="1229" font-size="75" text-anchor="start" textLength="510" lengthAdjust="spacingAndGlyphs">2 Theta(Degree)</text>
<text transform="translate(65.3 820.6) rotate(-90)" font-size="79" textLength="486" lengthAdjust="spacingAndGlyphs">Intensity(a.u.)</text>
<text x="951.3" y="156" font-size="74" text-anchor="start" textLength="313" lengthAdjust="spacingAndGlyphs">A-Anatase</text>
<text x="1332" y="156" font-size="74" textLength="191" lengthAdjust="spacingAndGlyphs">S-SiO<tspan dy="-13.2" font-size="66" stroke="#000" stroke-width="1.3">₂</tspan></text>
<text x="1387" y="380.5" font-size="103.3" text-anchor="start" textLength="117" lengthAdjust="spacingAndGlyphs">(c)</text>
<text x="1381" y="703.5" font-size="103.3" text-anchor="start" textLength="128" lengthAdjust="spacingAndGlyphs">(b)</text>
<text x="1378" y="955.5" font-size="103.3" text-anchor="start" textLength="122" lengthAdjust="spacingAndGlyphs">(a)</text>
<text x="413.4" y="95" font-size="61.5" text-anchor="start" textLength="43.3" lengthAdjust="spacingAndGlyphs">A</text>
<text x="667.4" y="450.7" font-size="61.5" text-anchor="start" textLength="43.3" lengthAdjust="spacingAndGlyphs">A</text>
<text x="874.4" y="437" font-size="61.5" text-anchor="start" textLength="43.3" lengthAdjust="spacingAndGlyphs">A</text>
<text x="987.8" y="450.2" font-size="61.5" text-anchor="start" textLength="43.3" lengthAdjust="spacingAndGlyphs">A</text>
<text x="1022.8" y="450.2" font-size="61.5" text-anchor="start" textLength="43.3" lengthAdjust="spacingAndGlyphs">A</text>
<text x="1178.3" y="485.5" font-size="61.5" text-anchor="start" textLength="43.3" lengthAdjust="spacingAndGlyphs">A</text>
<text x="1317.4" y="514" font-size="61.5" text-anchor="start" textLength="43.3" lengthAdjust="spacingAndGlyphs">A</text>
<text x="1416.4" y="508" font-size="61.5" text-anchor="start" textLength="43.3" lengthAdjust="spacingAndGlyphs">A</text>
<text x="413.4" y="922.6" font-size="61.5" text-anchor="start" textLength="43.3" lengthAdjust="spacingAndGlyphs">A</text>
<text x="323.6" y="466.8" font-size="62.5" text-anchor="start" textLength="33.9" lengthAdjust="spacingAndGlyphs">S</text>
<text x="329.6" y="727.8" font-size="62.5" text-anchor="start" textLength="33.9" lengthAdjust="spacingAndGlyphs">S</text>
<text x="332.4" y="913.6999999999999" font-size="62.5" text-anchor="start" textLength="33.9" lengthAdjust="spacingAndGlyphs">S</text>
</g>
</svg>
</body></html>
